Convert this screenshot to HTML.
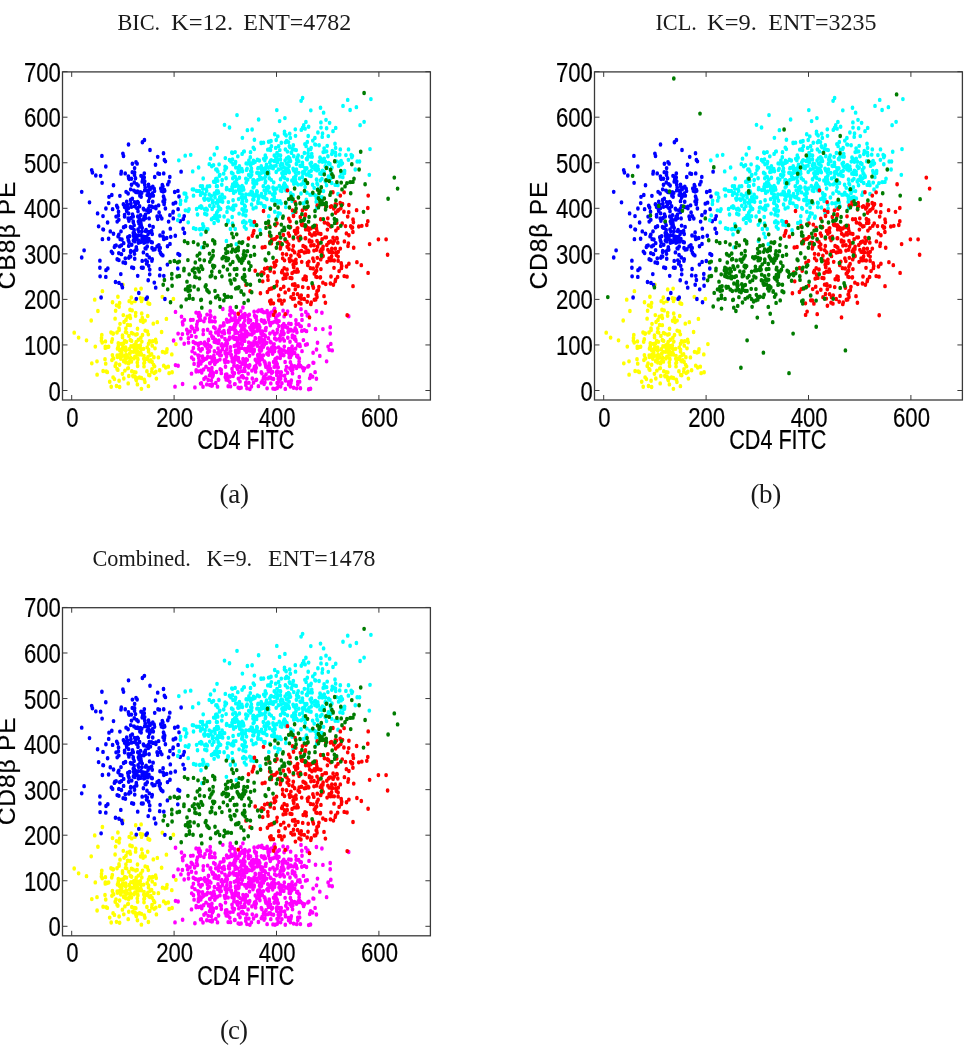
<!DOCTYPE html>
<html><head><meta charset="utf-8"><title>Figure</title>
<style>
html,body{margin:0;padding:0;background:#fff}
svg{display:block}
.tk text{font-family:"Liberation Sans",sans-serif;font-size:28px;fill:#000;stroke:#000;stroke-width:0.2px}
.tt{font-family:"Liberation Serif",serif;font-size:22.3px;fill:#1a1a1a}
.cp{font-family:"Liberation Serif",serif;font-size:27px;fill:#1a1a1a}
</style></head><body>
<svg width="968" height="1050" viewBox="0 0 968 1050">
<rect width="968" height="1050" fill="#fff"/>
<g transform="translate(0,0)">
<path d="M153.9 308.0h0M131.3 303.3h0M111.9 310.4h0M140.6 276.5h0M144.0 315.9h0M148.5 303.1h0M134.8 302.7h0M152.2 298.0h0M155.0 300.3h0M117.5 300.6h0M155.6 292.8h0M136.3 327.9h0M125.0 306.5h0M128.8 324.1h0M162.5 303.3h0M148.8 323.3h0M106.2 320.2h0M134.9 307.5h0M131.5 286.9h0M131.0 298.5h0M125.8 302.4h0M111.3 286.8h0M146.9 320.0h0M128.0 312.6h0M124.4 310.5h0M122.5 289.2h0M145.1 276.4h0M139.5 325.4h0M123.3 271.6h0M119.1 284.5h0M126.4 294.7h0M148.5 301.4h0M135.6 272.3h0M137.2 305.5h0M128.6 313.3h0M129.7 304.6h0M137.0 326.0h0M105.3 299.9h0M158.4 308.1h0M121.6 301.9h0M124.9 301.5h0M154.2 321.6h0M137.1 288.0h0M134.3 320.9h0M124.7 294.0h0M109.7 329.1h0M136.5 301.3h0M152.0 318.2h0M119.8 306.0h0M154.6 315.8h0M122.4 322.3h0M141.4 305.6h0M133.7 297.8h0M144.3 327.3h0M117.8 318.9h0M105.0 309.6h0M115.2 315.5h0M117.1 318.0h0M111.7 294.6h0M138.4 292.9h0M123.5 296.1h0M103.1 319.8h0M171.8 305.5h0M120.8 309.3h0M114.4 326.8h0M152.7 294.1h0M151.6 305.3h0M116.0 313.4h0M111.0 286.5h0M118.3 295.8h0M151.0 294.5h0M128.9 289.6h0M121.2 296.4h0M133.2 324.5h0M152.1 312.1h0M112.3 292.4h0M127.8 317.5h0M112.4 306.1h0M167.0 301.0h0M161.6 286.2h0M148.3 288.2h0M131.6 293.9h0M143.8 309.2h0M101.4 293.7h0M137.9 299.1h0M113.1 308.9h0M113.3 287.4h0M122.8 299.6h0M128.3 317.3h0M142.5 288.7h0M144.4 310.2h0M137.7 298.2h0M119.1 328.2h0M144.0 306.9h0M131.8 320.0h0M151.8 320.4h0M119.6 333.6h0M91.2 276.3h0M126.3 308.8h0M166.7 303.3h0M140.9 291.0h0M130.7 308.4h0M147.2 299.4h0M141.4 325.9h0M140.7 303.9h0M125.8 312.5h0M134.8 299.6h0M136.7 304.1h0M123.8 326.3h0M116.5 332.8h0M135.8 321.0h0M148.5 296.3h0M143.6 300.7h0M141.2 301.0h0M141.4 335.2h0M137.6 315.5h0M149.7 311.4h0M163.7 315.2h0M134.5 301.7h0M137.7 309.1h0M149.7 323.5h0M159.6 319.2h0M138.5 304.7h0M139.2 305.7h0M135.0 307.8h0M115.1 274.7h0M150.8 310.5h0M129.8 305.0h0M107.3 320.8h0M131.4 311.8h0M107.1 299.3h0M118.2 298.7h0M134.0 309.0h0M119.6 301.2h0M150.2 306.0h0M111.2 333.4h0M142.3 274.1h0M156.2 295.0h0M147.9 307.6h0M137.4 331.4h0M135.0 324.8h0M132.9 287.6h0M123.7 311.4h0M141.8 294.5h0M134.1 299.8h0M149.1 310.9h0M127.4 308.0h0M105.3 298.8h0M97.1 323.0h0M137.3 312.5h0M165.7 316.8h0M129.2 301.0h0M156.4 326.4h0M117.5 307.8h0M101.5 291.4h0M165.0 303.9h0M169.1 321.7h0M168.3 316.1h0M119.8 302.1h0M102.2 295.3h0M101.8 288.7h0M125.1 307.2h0M144.9 329.3h0M143.1 277.6h0M95.3 298.8h0M135.4 296.8h0M131.0 298.7h0M132.8 324.0h0M130.0 310.5h0M125.6 299.6h0M145.2 285.0h0M133.7 303.3h0M113.6 309.0h0M140.3 297.8h0M127.6 280.1h0M78.6 291.0h0M142.5 257.5h0M124.1 277.6h0M153.3 279.0h0M126.6 286.7h0M128.2 330.5h0M135.8 288.5h0M130.3 293.1h0M119.6 314.4h0M86.5 293.4h0M175.9 296.6h0M91.8 313.2h0M122.2 306.8h0M146.6 309.4h0M139.9 300.1h0M144.5 312.4h0M149.5 294.2h0M137.9 309.8h0M105.7 313.5h0M136.2 294.7h0M121.7 304.0h0M117.2 306.5h0M137.6 303.1h0M166.4 274.9h0M113.1 325.3h0M113.1 287.7h0M148.4 332.9h0M143.9 313.2h0M155.8 320.5h0M136.2 300.6h0M122.5 290.7h0M135.9 326.9h0M126.3 305.9h0M97.0 311.5h0M126.3 308.0h0M124.9 319.5h0M120.0 279.2h0M172.1 320.9h0M147.7 272.4h0M153.6 314.5h0M115.6 267.9h0M105.4 294.3h0M123.6 295.9h0M148.1 261.4h0M149.6 262.0h0M157.3 277.7h0M162.3 255.9h0M130.4 274.2h0M116.5 263.2h0M94.7 258.3h0M129.8 272.2h0M147.4 285.7h0M141.5 259.6h0M137.5 283.4h0M130.3 280.3h0M125.9 283.2h0M131.3 256.5h0M141.7 270.3h0M108.6 298.9h0M146.9 257.9h0M126.0 275.9h0M130.0 267.0h0M119.6 261.1h0M117.9 255.8h0M132.1 267.6h0M119.0 283.1h0M173.4 257.7h0M129.2 259.6h0M125.5 286.3h0M127.2 273.1h0M119.1 264.4h0M97.9 268.1h0M131.7 260.9h0M140.4 257.1h0M112.5 260.6h0M135.7 269.7h0M117.0 286.6h0M135.0 259.6h0M141.1 248.8h0M74.2 286.8h0M102.4 251.0h0M122.9 245.5h0M135.7 249.5h0" stroke="#ffff00" stroke-width="3.75" stroke-linecap="round" fill="none" transform="scale(1,1.16)"/>
<path d="M257.6 283.7h0M230.3 265.3h0M230.0 282.6h0M289.7 304.0h0M250.8 298.3h0M206.0 316.2h0M303.4 293.2h0M277.2 334.5h0M302.0 302.7h0M264.1 331.0h0M279.0 327.9h0M276.3 292.7h0M249.1 288.3h0M191.5 322.1h0M215.1 282.9h0M226.8 293.8h0M235.1 273.0h0M244.9 270.7h0M283.8 279.3h0M253.0 304.7h0M274.3 270.0h0M234.9 273.8h0M188.4 291.5h0M222.3 286.4h0M234.3 298.3h0M226.6 275.6h0M229.0 276.8h0M296.2 284.4h0M235.7 303.6h0M207.7 303.8h0M258.5 312.5h0M199.1 269.8h0M240.5 296.1h0M200.2 271.6h0M255.6 320.4h0M281.2 320.9h0M194.8 285.4h0M245.0 284.8h0M296.8 307.2h0M194.6 286.0h0M290.6 272.3h0M292.4 289.2h0M223.5 298.1h0M291.9 316.4h0M242.4 324.0h0M269.6 270.7h0M243.7 278.7h0M284.0 287.5h0M281.3 323.8h0M290.8 284.9h0M186.8 284.3h0M191.3 281.7h0M285.3 335.3h0M248.8 316.9h0M244.2 290.2h0M192.8 283.1h0M223.2 280.7h0M239.6 334.6h0M280.6 288.8h0M187.7 287.6h0M263.6 288.5h0M251.4 333.2h0M256.2 317.0h0M193.4 299.9h0M259.5 301.7h0M285.9 303.2h0M254.6 316.1h0M236.4 307.9h0M245.0 301.6h0M238.3 291.8h0M277.1 286.7h0M200.8 313.5h0M296.7 334.8h0M217.5 333.3h0M253.2 282.9h0M264.5 297.0h0M267.1 334.8h0M278.2 326.7h0M266.3 269.2h0M253.2 285.0h0M330.8 296.5h0M222.8 266.4h0M228.9 292.5h0M191.4 282.0h0M276.6 321.2h0M234.6 331.2h0M262.0 306.7h0M242.9 265.1h0M218.0 300.3h0M299.3 309.0h0M255.3 310.1h0M261.3 320.8h0M239.3 274.7h0M274.7 277.3h0M288.4 304.1h0M268.2 273.3h0M299.3 315.7h0M304.5 317.5h0M265.0 312.5h0M233.2 290.3h0M263.4 326.1h0M301.2 281.4h0M237.5 315.7h0M222.5 300.9h0M302.4 316.9h0M254.1 302.6h0M237.0 317.0h0M245.4 315.6h0M267.9 270.1h0M221.3 321.7h0M237.5 295.7h0M265.7 284.7h0M275.8 273.9h0M241.0 292.6h0M253.6 302.7h0M208.5 293.3h0M223.7 278.6h0M259.9 314.2h0M182.4 288.0h0M226.7 297.9h0M283.1 267.8h0M244.0 291.7h0M193.3 294.8h0M269.9 287.5h0M233.1 324.1h0M280.4 305.6h0M249.9 335.4h0M268.1 326.2h0M229.8 329.3h0M269.5 301.7h0M276.7 313.3h0M213.1 323.7h0M214.7 273.8h0M196.7 282.1h0M200.9 319.7h0M226.3 311.8h0M190.7 275.9h0M241.9 273.3h0M294.7 290.2h0M225.0 292.2h0M208.2 327.6h0M237.5 293.5h0M241.0 285.1h0M242.8 292.9h0M209.5 302.6h0M230.1 324.6h0M256.9 279.2h0M252.3 326.3h0M225.9 310.9h0M207.0 271.2h0M201.7 321.1h0M219.0 285.9h0M291.0 279.3h0M203.9 277.0h0M279.0 276.8h0M313.1 312.7h0M236.1 303.5h0M224.9 311.9h0M303.1 317.4h0M198.4 313.0h0M229.7 271.3h0M252.0 288.4h0M268.1 318.7h0M238.4 308.6h0M202.6 308.2h0M246.5 301.5h0M245.4 312.0h0M249.5 306.7h0M274.8 269.3h0M267.1 268.0h0M237.6 318.1h0M290.0 294.6h0M292.1 298.6h0M244.9 319.8h0M210.6 320.4h0M230.5 302.5h0M257.9 307.1h0M283.0 292.1h0M238.9 303.3h0M255.2 291.3h0M234.6 282.0h0M274.7 291.8h0M281.7 302.8h0M205.9 309.3h0M290.8 284.2h0M254.6 272.1h0M252.3 301.9h0M268.1 272.3h0M260.2 285.3h0M276.2 312.1h0M173.6 293.5h0M196.2 320.3h0M280.2 308.7h0M256.0 327.6h0M175.5 314.7h0M271.3 269.4h0M207.4 296.6h0M230.4 299.3h0M312.6 324.7h0M226.9 301.0h0M332.2 302.1h0M240.0 328.8h0M246.7 289.9h0M313.7 312.8h0M249.2 301.7h0M226.8 322.7h0M329.2 301.6h0M293.6 334.3h0M300.1 281.1h0M210.2 271.7h0M301.0 266.5h0M268.8 270.5h0M259.2 308.6h0M213.4 290.8h0M244.0 288.5h0M296.2 279.3h0M275.0 309.8h0M201.0 319.5h0M272.1 300.6h0M289.2 308.0h0M254.1 294.4h0M225.5 316.2h0M299.1 311.6h0M256.2 295.6h0M190.0 285.7h0M233.8 291.5h0M252.9 296.4h0M260.3 307.1h0M229.6 290.9h0M240.4 280.7h0M277.1 330.2h0M244.4 317.7h0M264.9 329.6h0M283.4 288.3h0M281.9 301.9h0M214.4 302.7h0M210.2 287.1h0M252.5 286.7h0M219.2 283.9h0M210.4 322.5h0M218.7 285.3h0M264.3 311.6h0M257.0 285.1h0M244.4 284.1h0M210.2 268.2h0M245.1 285.2h0M184.4 275.7h0M213.0 321.5h0M242.7 289.6h0M280.3 324.7h0M265.9 316.3h0M219.8 306.2h0M287.5 321.4h0M254.2 280.6h0M258.4 332.9h0M274.1 296.6h0M228.6 284.9h0M263.7 269.2h0M210.8 299.0h0M259.8 310.7h0M242.9 319.9h0M249.9 282.4h0M246.6 286.0h0M265.3 277.9h0M263.2 295.2h0M254.1 286.2h0M196.1 269.5h0M244.7 293.9h0M234.9 281.7h0M238.5 299.4h0M307.9 316.1h0M274.4 287.8h0M255.7 315.5h0M235.1 310.1h0M215.1 277.2h0M207.3 300.3h0M262.2 309.4h0M270.3 280.4h0M198.0 306.3h0M212.0 311.4h0M212.6 291.3h0M278.9 281.2h0M237.4 302.1h0M214.2 294.7h0M262.8 293.3h0M225.3 325.1h0M205.3 297.9h0M302.0 275.8h0M266.9 316.0h0M238.9 302.4h0M274.5 302.8h0M330.2 282.1h0M284.3 298.8h0M201.3 330.4h0M292.3 290.8h0M181.5 273.0h0M285.3 281.7h0M239.3 296.2h0M234.4 321.7h0M256.6 276.1h0M269.2 325.4h0M232.3 308.8h0M217.6 304.5h0M266.0 326.4h0M184.2 296.3h0M244.7 314.0h0M207.6 307.8h0M281.4 286.0h0M250.9 296.1h0M264.0 324.9h0M235.4 309.8h0M279.3 270.9h0M273.6 312.0h0M219.9 310.0h0M225.7 322.9h0M272.6 305.0h0M274.2 316.3h0M215.8 330.2h0M258.2 305.7h0M200.6 330.7h0M217.4 311.1h0M262.1 328.6h0M233.9 315.2h0M274.6 266.0h0M259.2 293.7h0M292.5 301.3h0M286.9 270.3h0M254.1 317.5h0M256.0 317.5h0M287.7 282.7h0M209.6 323.6h0M261.1 287.7h0M307.2 296.8h0M240.4 316.4h0M291.7 305.8h0M266.1 282.6h0M241.7 288.1h0M235.7 276.7h0M213.9 306.5h0M194.1 313.7h0M299.5 314.5h0M197.4 283.8h0M246.2 309.6h0M220.2 318.3h0M175.0 333.3h0M246.5 303.4h0M225.1 303.4h0M243.6 279.4h0M279.5 291.9h0M282.4 288.3h0M272.4 304.4h0M178.1 315.3h0M241.1 334.2h0M248.6 275.6h0M198.3 297.5h0M328.1 298.8h0M275.2 300.0h0M234.1 292.1h0M315.1 320.8h0M267.4 316.3h0M221.2 318.9h0M309.7 326.0h0M277.4 284.1h0M194.9 304.6h0M273.7 297.9h0M232.6 275.7h0M278.2 316.7h0M227.3 296.1h0M198.5 271.2h0M242.3 313.6h0M268.6 275.6h0M273.0 286.0h0M261.5 301.6h0M268.5 320.0h0M256.5 327.3h0M248.1 322.1h0M180.9 291.9h0M297.8 329.2h0M268.4 305.9h0M202.5 307.3h0M232.2 268.2h0M258.8 267.7h0M244.5 273.6h0M209.6 297.9h0M216.0 295.1h0M263.8 294.3h0M254.0 286.8h0M274.9 288.2h0M249.7 314.8h0M255.3 273.3h0M221.8 290.2h0M247.3 310.2h0M248.7 315.4h0M234.8 279.5h0M272.6 320.7h0M218.6 303.7h0M269.4 278.1h0M262.0 276.8h0M210.6 308.0h0M212.1 277.0h0M316.4 326.5h0M276.6 314.7h0M216.4 320.7h0M305.8 269.0h0M285.4 280.9h0M212.2 332.4h0M241.6 299.9h0M296.9 286.5h0M278.3 329.6h0M313.1 304.1h0M236.1 297.8h0M237.1 315.7h0M232.0 311.5h0M261.3 329.8h0M290.9 330.0h0M287.8 291.2h0M263.7 325.3h0M209.7 277.1h0M239.6 275.4h0M308.8 315.4h0M247.3 287.5h0M276.9 320.1h0M208.6 318.7h0M253.7 297.3h0M235.1 287.2h0M182.8 279.7h0M231.3 274.6h0M278.6 299.5h0M200.3 272.5h0M244.6 319.8h0M204.6 295.2h0M282.4 283.3h0M266.0 322.7h0M248.9 330.0h0M246.7 300.9h0M230.5 333.1h0M290.4 333.2h0M291.3 328.0h0M196.8 279.7h0M259.5 305.4h0M221.8 296.7h0M291.4 319.1h0M175.5 268.9h0M297.7 306.7h0M246.8 326.4h0M243.0 281.9h0M202.2 300.9h0M218.5 288.6h0M188.5 295.4h0M286.5 316.3h0M240.9 319.9h0M279.1 303.2h0M265.3 314.1h0M229.2 286.1h0M239.9 273.4h0M235.6 285.1h0M230.0 291.5h0M209.9 331.9h0M269.4 315.3h0M246.6 315.2h0M211.7 332.5h0M295.9 276.1h0M307.3 272.0h0M203.0 333.4h0M285.1 312.1h0M261.3 302.2h0M285.5 328.1h0M200.6 275.8h0M259.8 282.1h0M209.7 313.0h0M236.3 297.5h0M308.0 271.3h0M228.1 311.9h0M198.5 320.1h0M206.7 309.0h0M228.8 286.7h0M221.3 297.8h0M284.6 323.9h0M295.6 292.7h0M284.0 302.3h0M300.1 298.4h0M297.8 297.7h0M244.8 276.1h0M203.3 284.7h0M215.4 292.8h0M243.3 312.6h0M218.9 293.5h0M235.0 331.1h0M208.6 318.1h0M255.4 291.8h0M228.2 333.0h0M250.2 302.4h0M198.6 272.5h0M271.8 299.5h0M205.0 274.5h0M273.8 267.7h0M280.6 324.1h0M238.0 309.8h0M261.7 268.4h0M294.6 292.2h0M254.1 268.7h0M244.4 290.9h0M248.7 298.8h0M238.2 297.9h0M239.5 289.5h0M203.6 318.5h0M202.0 311.5h0M224.0 280.1h0M198.3 315.2h0M262.2 289.0h0M238.2 334.1h0M261.9 321.9h0M321.9 269.6h0M254.2 301.5h0M211.3 327.9h0M267.6 304.5h0M304.4 284.6h0M280.3 289.3h0M298.0 297.0h0M263.3 306.3h0M259.8 295.0h0M236.2 291.4h0M199.7 274.7h0M276.4 316.1h0M301.8 271.5h0M275.2 314.2h0M260.1 300.0h0M226.5 307.5h0M229.2 277.0h0M231.4 269.3h0M218.4 327.3h0M300.6 315.5h0M268.0 304.6h0M257.7 268.4h0M211.9 317.2h0M212.4 324.8h0M218.2 295.7h0M257.7 306.1h0M277.0 276.2h0M231.9 276.0h0M203.2 288.1h0M296.5 317.2h0M288.6 329.5h0M236.2 286.1h0M193.5 309.8h0M246.9 334.7h0M280.6 333.2h0M234.6 270.1h0M273.5 326.7h0M287.6 268.4h0M198.5 296.2h0M235.6 302.3h0M310.6 323.5h0M210.9 272.6h0M248.7 295.2h0M234.3 284.3h0M308.7 335.6h0M227.1 324.3h0M220.7 302.7h0M298.8 314.3h0M284.1 272.8h0M270.3 279.6h0M211.9 289.9h0M198.9 300.7h0M270.2 294.6h0M275.7 309.3h0M206.8 331.4h0M317.5 295.5h0M268.4 291.5h0M298.7 279.5h0M214.8 313.8h0M256.5 279.1h0M293.5 285.1h0M233.8 322.5h0M294.5 315.6h0M266.9 305.0h0M225.2 304.8h0M192.1 302.9h0M272.4 278.1h0M301.8 285.3h0M279.2 325.1h0M294.7 304.3h0M243.1 280.0h0M289.4 306.7h0M235.3 273.8h0M215.8 286.6h0M267.8 300.4h0M212.8 308.5h0M257.3 298.1h0M243.5 325.4h0M278.9 320.9h0M191.3 281.9h0M227.3 277.4h0M198.7 308.7h0M271.6 321.5h0M248.5 277.9h0M240.8 268.4h0M242.8 271.6h0M284.3 293.7h0M209.7 274.8h0M235.8 279.7h0M290.3 330.6h0M258.7 309.7h0M290.4 312.2h0M289.9 302.8h0M270.8 330.5h0M178.1 287.6h0M200.6 302.3h0M280.3 301.1h0M237.9 286.9h0M223.9 285.3h0M228.0 304.6h0M297.8 331.4h0M237.9 277.7h0M299.3 324.9h0M191.7 308.2h0M231.1 306.4h0M251.9 300.2h0M290.0 317.7h0M259.0 280.3h0M253.4 279.4h0M248.0 272.1h0M256.3 273.1h0M276.8 323.4h0M277.2 313.9h0M289.9 317.3h0M244.9 280.9h0M247.3 302.4h0M234.0 313.1h0M204.2 296.5h0M264.5 293.0h0M197.5 277.3h0M298.1 308.1h0M238.4 326.4h0M305.6 297.3h0M196.0 290.4h0M285.8 318.9h0M300.4 334.7h0M226.2 327.3h0M330.2 287.5h0M316.5 301.3h0M245.8 329.9h0M280.6 326.5h0M263.4 299.0h0M212.4 331.3h0M292.5 321.9h0M266.5 295.6h0M283.8 306.3h0M292.8 318.5h0M221.2 306.3h0M291.5 314.7h0M245.8 332.0h0M253.0 279.5h0M242.2 296.7h0M244.6 300.9h0M264.0 278.2h0M257.9 297.7h0M269.5 302.8h0M326.6 311.5h0M218.5 285.7h0M224.5 287.3h0M232.0 308.6h0M299.6 329.0h0M237.9 276.7h0M264.9 289.2h0M232.0 283.2h0M322.9 283.7h0M277.2 308.4h0M261.3 292.3h0M288.7 300.9h0M280.0 293.5h0M271.8 326.4h0M225.0 312.3h0M285.4 327.1h0M295.9 293.8h0M218.6 327.4h0M319.8 306.8h0M205.8 325.3h0M241.5 293.3h0M196.2 319.1h0M200.8 295.7h0M218.1 285.7h0M213.7 282.0h0M224.4 310.4h0M299.7 296.9h0M281.3 304.3h0M204.0 326.7h0M249.3 271.3h0M269.2 313.4h0M261.4 276.1h0M182.5 277.7h0M237.3 303.8h0M275.0 335.3h0M213.8 309.2h0M203.6 310.4h0M213.1 310.4h0M256.9 312.4h0M316.4 268.3h0M290.6 300.8h0M281.9 330.4h0M269.9 272.1h0M199.1 310.5h0M290.4 308.0h0M193.0 275.7h0M295.2 283.0h0M232.4 320.7h0M282.9 306.0h0M243.0 309.5h0M265.6 283.4h0M282.5 280.8h0M212.0 320.3h0M278.2 332.8h0M259.3 291.3h0M303.6 319.3h0M253.5 329.9h0M315.5 283.6h0M295.9 316.1h0M288.8 279.0h0M261.6 286.1h0M220.3 281.5h0M216.0 312.1h0M238.1 303.8h0M270.5 318.1h0M214.4 308.9h0M221.0 319.0h0M230.1 267.7h0M251.9 284.9h0M283.0 285.5h0M232.0 318.0h0M236.1 292.5h0M306.5 285.5h0M241.9 272.5h0M213.2 322.7h0M264.2 276.4h0M191.5 289.6h0M288.1 286.1h0M248.0 272.4h0M251.0 284.3h0M240.0 312.3h0M265.0 289.5h0M271.8 301.2h0M273.0 335.0h0M210.0 313.3h0M261.9 297.8h0M250.5 276.3h0M234.0 281.4h0M235.5 307.1h0M310.5 335.1h0M238.8 321.2h0M218.4 293.6h0M265.7 315.6h0M277.8 271.9h0M238.6 311.0h0M210.0 298.8h0M292.7 304.2h0M194.9 334.0h0M261.8 267.1h0M225.9 295.8h0M227.9 327.6h0M208.5 292.9h0M295.6 300.6h0M207.6 284.3h0M260.7 308.6h0M288.6 331.4h0M251.9 319.5h0M231.4 283.4h0M299.1 315.8h0M277.3 278.1h0M271.0 295.3h0M236.3 302.7h0M182.6 331.0h0M309.0 280.3h0M265.3 289.9h0M257.8 282.7h0M244.8 290.6h0M241.3 324.7h0M241.7 283.8h0M210.7 286.6h0M262.5 285.8h0M256.6 281.9h0M199.1 306.7h0M270.5 325.4h0M251.8 280.1h0M231.3 305.9h0M229.4 286.8h0M267.9 317.0h0M251.5 297.0h0M195.4 295.9h0M348.7 272.6h0" stroke="#ff00ff" stroke-width="3.75" stroke-linecap="round" fill="none" transform="scale(1,1.16)"/>
<path d="M126.7 173.9h0M142.0 152.0h0M129.2 154.3h0M148.4 182.9h0M137.7 179.4h0M173.0 183.2h0M163.1 165.1h0M130.9 175.4h0M150.8 162.1h0M134.0 204.9h0M134.6 148.6h0M123.4 176.1h0M130.7 163.2h0M127.8 176.7h0M144.0 180.7h0M152.4 166.8h0M152.8 160.9h0M149.4 177.8h0M158.6 177.0h0M150.2 163.2h0M143.7 188.8h0M138.7 199.4h0M147.2 168.0h0M169.9 185.5h0M143.4 206.1h0M139.1 187.9h0M126.8 182.2h0M134.1 194.1h0M151.6 199.1h0M152.7 173.9h0M113.5 159.7h0M131.5 178.3h0M116.1 186.7h0M111.8 168.1h0M154.1 162.6h0M136.8 179.4h0M135.8 165.5h0M134.3 157.3h0M134.6 177.9h0M139.5 187.9h0M139.9 168.7h0M163.9 170.4h0M144.7 156.3h0M153.1 195.6h0M140.5 185.4h0M149.1 188.3h0M133.5 203.1h0M130.6 172.4h0M137.9 165.8h0M137.8 186.6h0M141.0 151.6h0M148.8 160.9h0M144.7 164.1h0M149.5 167.8h0M136.8 158.7h0M142.2 196.4h0M134.0 164.3h0M161.4 164.5h0M129.6 203.6h0M153.3 168.7h0M152.9 178.6h0M145.2 161.6h0M150.4 181.7h0M138.2 174.8h0M150.6 168.8h0M157.7 188.9h0M154.5 164.6h0M123.5 176.2h0M141.7 166.3h0M159.1 183.1h0M142.2 156.6h0M164.7 164.5h0M116.7 177.4h0M164.2 164.0h0M135.5 153.7h0M134.6 144.9h0M163.1 200.4h0M138.1 159.9h0M128.1 166.8h0M135.7 176.0h0M138.6 191.1h0M128.7 153.7h0M140.0 195.3h0M137.5 165.1h0M144.2 153.0h0M133.3 200.8h0M155.9 179.5h0M131.0 196.1h0M149.6 170.4h0M158.0 149.5h0M137.1 141.1h0M118.1 203.8h0M128.6 183.9h0M149.7 162.9h0M132.3 148.4h0M148.9 167.5h0M144.1 186.8h0M141.1 169.6h0M175.6 174.7h0M139.6 177.8h0M157.1 186.6h0M152.4 168.1h0M163.5 169.4h0M164.1 176.0h0M155.9 178.1h0M130.5 195.7h0M118.5 182.5h0M142.7 154.6h0M126.7 177.6h0M146.1 198.2h0M169.8 152.5h0M140.2 165.7h0M136.0 139.7h0M148.5 173.4h0M138.0 182.1h0M134.1 198.3h0M154.7 152.6h0M163.5 132.1h0M145.5 188.0h0M145.4 185.1h0M147.4 164.6h0M128.2 188.2h0M117.6 178.9h0M148.3 180.2h0M132.3 171.3h0M132.3 196.3h0M149.0 200.0h0M149.6 194.5h0M112.6 218.2h0M141.9 199.6h0M124.6 178.4h0M134.1 198.5h0M149.3 222.0h0M152.2 201.7h0M138.4 190.9h0M136.2 205.7h0M130.6 221.1h0M160.4 186.3h0M149.7 232.4h0M141.8 203.5h0M114.9 212.0h0M177.8 231.5h0M133.3 191.7h0M148.9 206.0h0M133.5 231.0h0M148.1 201.8h0M134.5 218.9h0M115.5 243.1h0M134.7 223.1h0M133.4 207.4h0M134.4 201.3h0M152.2 209.0h0M131.7 211.0h0M143.6 204.0h0M153.2 215.2h0M140.9 192.4h0M143.9 209.3h0M128.3 206.9h0M141.0 202.8h0M148.7 229.2h0M117.2 223.5h0M124.6 186.6h0M120.2 206.2h0M130.7 216.4h0M142.0 206.1h0M147.0 219.7h0M144.7 207.2h0M125.3 222.7h0M138.5 207.2h0M163.8 237.8h0M140.9 189.8h0M162.8 220.2h0M137.7 237.8h0M159.4 215.5h0M160.4 217.9h0M138.4 209.3h0M141.5 230.7h0M166.7 205.2h0M128.4 152.0h0M106.0 232.9h0M163.8 206.2h0M111.4 216.9h0M151.2 208.6h0M148.2 241.6h0M143.1 230.8h0M163.2 204.2h0M119.7 212.4h0M132.5 184.8h0M152.2 223.4h0M144.7 208.9h0M164.4 163.7h0M145.8 224.4h0M125.4 226.7h0M167.5 212.3h0M147.2 212.5h0M138.0 197.8h0M123.7 209.6h0M118.9 224.2h0M147.6 208.3h0M152.1 168.3h0M133.2 190.8h0M146.1 257.7h0M145.2 214.1h0M123.2 226.2h0M113.5 201.5h0M136.1 214.6h0M143.4 179.9h0M131.2 196.4h0M170.3 197.1h0M140.6 208.7h0M157.1 212.4h0M102.4 206.2h0M128.9 190.4h0M138.1 203.0h0M143.4 217.6h0M180.2 190.7h0M129.0 208.6h0M114.4 213.0h0M151.9 224.8h0M129.5 221.1h0M128.8 222.3h0M164.9 257.8h0M125.5 195.0h0M118.8 202.4h0M136.7 215.3h0M141.3 194.5h0M127.8 204.5h0M164.8 205.6h0M138.8 252.6h0M123.6 215.6h0M160.0 203.0h0M124.6 185.2h0M146.9 181.4h0M173.3 188.3h0M142.0 230.9h0M155.7 248.0h0M135.2 202.4h0M158.9 211.3h0M123.6 195.9h0M152.0 213.8h0M134.7 208.1h0M149.7 236.5h0M145.4 204.4h0M121.4 219.1h0M136.9 206.0h0M146.6 204.2h0M160.2 213.7h0M121.9 206.5h0M128.7 212.0h0M145.5 199.2h0M126.6 177.3h0M179.6 219.8h0M161.4 219.3h0M136.3 213.0h0M163.1 173.7h0M173.3 175.6h0M170.0 210.3h0M162.9 160.8h0M144.7 159.3h0M165.4 179.7h0M134.5 150.8h0M98.6 195.1h0M143.9 189.2h0M109.0 169.7h0M133.2 186.6h0M167.8 159.0h0M146.6 227.3h0M164.4 137.9h0M121.4 211.5h0M168.6 191.0h0M107.8 231.4h0M126.1 165.4h0M121.0 149.7h0M102.1 157.6h0M159.7 237.4h0M116.1 211.6h0M184.5 200.9h0M134.1 216.7h0M181.1 148.0h0M128.5 179.3h0M184.2 186.3h0M130.6 217.2h0M84.1 215.8h0M154.9 214.9h0M119.9 168.8h0M137.6 174.1h0M148.3 166.2h0M125.2 149.5h0M99.9 230.8h0M170.7 204.2h0M126.4 180.5h0M131.8 230.5h0M175.3 203.2h0M100.6 151.6h0M92.4 148.7h0M163.7 149.5h0M97.6 184.0h0M138.9 192.5h0M144.3 149.4h0M103.4 197.9h0M134.7 174.2h0M132.4 141.2h0M103.0 197.7h0M108.6 205.8h0M118.4 185.8h0M174.7 165.5h0M179.0 169.4h0M112.6 180.3h0M123.5 134.5h0M122.4 247.8h0M167.4 228.1h0M117.2 191.0h0M169.0 156.6h0M107.6 191.8h0M160.8 162.4h0M131.5 159.3h0M131.0 187.9h0M95.8 151.3h0M121.7 245.6h0M99.9 224.7h0M118.8 218.2h0M162.3 159.5h0M146.0 214.2h0M160.1 231.9h0M105.8 238.7h0M177.9 164.6h0M136.3 257.6h0M161.8 188.4h0M157.7 135.2h0M147.5 207.1h0M120.8 236.3h0M118.8 189.5h0M155.5 142.0h0M173.2 182.4h0M164.4 174.3h0M105.9 179.7h0M119.0 243.9h0M159.4 149.9h0M103.0 186.3h0M151.5 177.9h0M142.2 224.9h0M89.5 174.4h0M100.1 238.2h0M121.3 148.0h0M178.0 218.9h0M183.1 197.2h0M131.4 154.1h0M110.3 199.5h0M178.1 180.3h0M108.7 175.1h0M147.2 256.5h0M164.7 172.3h0M154.3 243.6h0M105.8 143.5h0M148.5 159.2h0M183.3 188.8h0M147.3 225.7h0M121.0 199.4h0M81.7 165.4h0M81.7 222.0h0M101.9 134.4h0M91.7 146.6h0M144.4 120.7h0M128.5 124.6h0M150.0 129.3h0M165.4 139.1h0M101.1 256.5h0M142.4 122.6h0M122.9 132.4h0" stroke="#0000ff" stroke-width="3.75" stroke-linecap="round" fill="none" transform="scale(1,1.16)"/>
<path d="M277.4 139.8h0M287.4 154.8h0M232.5 137.5h0M255.0 139.6h0M273.7 143.5h0M287.5 164.0h0M283.4 148.5h0M233.7 166.3h0M253.5 155.0h0M265.8 166.7h0M281.9 149.2h0M271.2 144.4h0M322.2 118.0h0M269.3 153.7h0M280.0 173.5h0M249.8 190.5h0M327.1 144.3h0M277.2 139.8h0M271.2 138.0h0M262.1 154.0h0M284.4 160.0h0M273.3 162.8h0M311.2 147.2h0M257.9 155.0h0M265.3 146.4h0M264.9 153.1h0M285.4 122.7h0M287.1 148.0h0M302.4 140.2h0M288.5 135.4h0M289.7 136.5h0M283.6 159.8h0M310.0 167.9h0M286.2 145.2h0M235.2 152.6h0M265.7 149.8h0M257.9 145.2h0M226.4 144.6h0M316.5 154.7h0M305.1 110.9h0M295.3 111.5h0M290.5 138.8h0M318.4 146.0h0M234.7 157.3h0M318.4 163.1h0M226.7 162.1h0M286.9 161.4h0M282.6 152.3h0M293.8 153.1h0M286.6 121.5h0M301.3 159.0h0M259.5 151.4h0M263.3 160.5h0M250.3 135.6h0M277.5 137.2h0M277.0 173.2h0M242.3 172.8h0M302.4 143.0h0M252.3 165.7h0M264.2 148.5h0M259.3 154.6h0M264.5 169.6h0M295.2 152.5h0M258.8 149.2h0M242.1 160.2h0M261.1 153.4h0M250.5 152.3h0M239.7 161.4h0M296.2 129.4h0M314.2 161.9h0M239.4 153.2h0M321.5 150.1h0M324.2 136.7h0M239.2 148.1h0M286.7 141.2h0M268.5 144.4h0M296.7 137.4h0M200.5 160.4h0M295.9 151.3h0M265.9 144.1h0M286.6 136.5h0M297.6 135.8h0M216.5 160.5h0M276.2 148.3h0M298.0 159.1h0M309.0 148.3h0M293.8 134.7h0M253.5 140.3h0M296.4 146.1h0M264.3 170.3h0M296.4 141.4h0M269.8 139.9h0M270.7 142.8h0M285.4 160.1h0M242.6 174.1h0M274.6 165.1h0M252.9 172.0h0M298.2 133.9h0M310.2 141.0h0M231.8 131.5h0M213.5 142.3h0M280.4 137.4h0M267.1 163.7h0M251.8 148.2h0M335.7 133.8h0M274.4 172.2h0M258.0 173.7h0M275.0 162.8h0M280.5 134.0h0M321.2 148.6h0M293.0 168.1h0M246.2 157.4h0M263.4 146.7h0M331.7 157.8h0M225.3 136.3h0M281.0 161.8h0M304.4 131.9h0M282.7 141.6h0M276.7 162.5h0M256.6 158.1h0M283.0 150.8h0M294.0 153.8h0M281.3 141.0h0M305.1 145.8h0M292.1 173.3h0M311.9 143.9h0M264.2 164.1h0M276.0 142.8h0M268.8 161.8h0M323.5 164.7h0M259.3 138.4h0M241.8 145.6h0M335.6 127.5h0M302.9 149.7h0M269.6 165.9h0M271.2 155.0h0M253.0 157.6h0M285.8 178.6h0M235.8 177.0h0M312.8 121.2h0M242.7 191.6h0M277.8 174.7h0M243.2 161.6h0M284.5 115.2h0M215.3 156.9h0M288.5 147.6h0M331.8 132.8h0M246.0 192.0h0M348.4 137.8h0M219.7 169.9h0M340.0 152.2h0M317.0 146.9h0M286.8 145.7h0M231.1 179.9h0M339.6 139.8h0M316.4 171.1h0M196.7 164.6h0M233.0 141.6h0M217.0 127.6h0M286.1 116.8h0M281.8 164.7h0M281.1 145.4h0M252.8 168.4h0M307.2 137.4h0M301.0 166.8h0M235.2 140.9h0M193.6 163.4h0M232.0 161.2h0M256.8 164.8h0M302.3 152.6h0M254.1 160.7h0M302.7 148.5h0M274.7 115.7h0M305.0 145.0h0M357.2 139.2h0M238.6 171.6h0M235.6 139.6h0M321.9 154.2h0M344.6 147.4h0M277.0 131.9h0M248.9 138.3h0M211.8 143.3h0M306.9 166.2h0M283.8 144.3h0M233.7 180.3h0M247.7 154.9h0M299.6 153.8h0M257.4 137.7h0M278.2 133.6h0M320.0 135.8h0M319.9 149.7h0M336.5 139.2h0M257.2 168.3h0M289.9 126.9h0M351.8 135.6h0M316.6 179.6h0M265.0 177.7h0M270.1 122.0h0M360.1 107.9h0M251.4 145.3h0M256.0 178.8h0M307.9 135.2h0M250.0 140.6h0M208.7 172.5h0M202.4 160.4h0M265.3 133.9h0M239.4 143.3h0M332.3 130.1h0M245.8 154.0h0M245.4 170.6h0M215.8 154.3h0M308.6 109.3h0M240.8 161.5h0M328.3 117.3h0M298.8 149.0h0M369.3 150.7h0M267.0 148.6h0M306.5 137.0h0M195.9 197.4h0M243.7 163.5h0M328.4 152.1h0M265.4 147.5h0M237.9 148.3h0M227.0 182.7h0M268.7 149.8h0M264.8 138.2h0M339.7 133.3h0M242.4 118.8h0M258.2 144.8h0M238.5 146.5h0M236.7 154.9h0M223.7 149.7h0M326.6 110.6h0M311.2 142.8h0M190.7 133.5h0M296.5 140.8h0M238.3 144.5h0M359.5 139.2h0M204.7 180.4h0M291.9 155.6h0M335.2 159.4h0M255.9 167.4h0M307.3 122.4h0M239.5 165.1h0M325.3 156.5h0M302.5 110.3h0M269.7 128.6h0M351.2 133.5h0M278.6 126.0h0M355.3 146.1h0M237.8 134.8h0M252.0 167.9h0M280.4 164.2h0M201.4 179.2h0M250.5 131.2h0M255.0 168.9h0M193.5 168.7h0M305.2 146.3h0M288.4 146.6h0M246.3 181.7h0M189.0 180.4h0M287.2 122.0h0M247.1 145.4h0M316.8 169.6h0M269.7 179.2h0M271.8 172.4h0M312.6 159.3h0M274.8 182.5h0M186.7 170.2h0M291.2 131.3h0M285.6 149.4h0M253.7 172.0h0M293.8 146.9h0M246.2 140.9h0M284.9 101.8h0M200.6 168.0h0M265.3 157.3h0M214.7 168.2h0M311.0 151.7h0M199.6 178.5h0M258.6 169.1h0M179.2 185.7h0M329.9 141.4h0M275.1 166.6h0M279.6 104.4h0M305.1 174.6h0M283.8 161.8h0M306.4 150.5h0M243.7 130.7h0M240.0 166.5h0M193.6 196.7h0M338.0 167.2h0M256.9 149.0h0M261.0 175.3h0M185.7 167.0h0M317.6 159.1h0M314.9 146.0h0M225.1 143.6h0M306.3 172.1h0M204.4 172.3h0M202.4 166.3h0M247.4 112.2h0M298.8 138.9h0M311.1 127.5h0M272.6 167.6h0M268.2 160.9h0M280.5 154.5h0M253.4 138.6h0M289.1 143.1h0M224.5 107.6h0M285.9 164.2h0M251.2 165.3h0M285.9 116.5h0M261.4 149.0h0M289.8 126.7h0M242.1 180.4h0M239.7 166.4h0M209.2 167.7h0M326.5 159.7h0M327.9 134.7h0M324.1 148.1h0M284.4 148.0h0M262.8 169.9h0M306.8 145.0h0M280.1 174.2h0M295.1 156.8h0M287.6 164.1h0M284.7 153.5h0M221.8 159.3h0M268.5 148.1h0M225.0 146.4h0M335.4 131.6h0M257.9 175.0h0M288.9 139.2h0M325.3 143.3h0M254.7 157.9h0M265.7 151.8h0M325.8 143.4h0M303.4 156.4h0M251.7 191.3h0M245.9 167.7h0M322.4 139.5h0M322.5 147.1h0M317.8 143.5h0M320.3 155.5h0M222.1 167.8h0M226.1 153.7h0M251.6 150.7h0M258.6 171.2h0M278.3 183.8h0M323.5 137.3h0M285.4 128.8h0M217.7 155.9h0M246.5 146.5h0M309.2 151.3h0M251.6 176.3h0M241.8 175.0h0M283.0 151.3h0M235.1 131.1h0M316.8 178.2h0M287.4 130.7h0M322.0 169.9h0M304.7 155.6h0M216.9 166.1h0M254.8 156.2h0M324.1 127.9h0M252.3 140.6h0M319.1 125.2h0M219.1 178.9h0M270.5 129.4h0M305.1 161.2h0M288.5 122.5h0M300.4 143.2h0M296.6 157.9h0M245.2 177.9h0M232.2 187.1h0M289.3 148.5h0M327.2 125.7h0M251.2 147.3h0M202.8 162.8h0M217.8 172.8h0M255.9 167.5h0M215.0 170.2h0M243.7 170.2h0M325.3 130.6h0M222.0 171.5h0M215.9 146.1h0M216.9 146.1h0M274.2 138.8h0M270.7 138.5h0M304.9 124.2h0M273.7 157.2h0M267.8 129.0h0M284.6 153.3h0M204.8 184.3h0M341.1 141.9h0M266.1 135.9h0M238.5 148.2h0M293.8 158.5h0M280.4 142.4h0M216.6 164.8h0M271.4 126.1h0M228.3 190.2h0M267.2 162.4h0M222.6 174.0h0M281.1 175.3h0M292.4 128.3h0M216.9 166.7h0M316.2 143.3h0M261.1 122.9h0M310.6 128.6h0M250.7 142.5h0M337.9 159.6h0M242.1 132.7h0M216.8 183.3h0M261.5 146.0h0M263.7 136.9h0M235.5 165.0h0M317.0 158.1h0M328.1 154.0h0M320.6 170.1h0M285.1 138.4h0M314.7 142.6h0M229.5 137.9h0M323.2 131.1h0M263.5 123.0h0M281.3 123.1h0M212.5 174.5h0M330.8 153.6h0M263.6 177.6h0M266.8 171.7h0M214.4 166.7h0M315.0 168.3h0M251.0 193.7h0M308.6 150.2h0M302.5 142.1h0M219.1 141.7h0M235.8 144.5h0M219.9 150.7h0M265.6 156.2h0M290.7 166.6h0M268.6 122.2h0M274.2 169.9h0M276.2 120.7h0M257.2 165.4h0M279.8 129.4h0M244.5 177.0h0M293.3 125.2h0M213.2 187.9h0M264.8 178.6h0M263.0 145.4h0M261.2 123.4h0M254.3 128.5h0M311.4 140.2h0M214.9 186.0h0M239.1 184.1h0M294.3 156.8h0M302.1 135.2h0M230.9 139.3h0M219.0 180.3h0M240.5 163.7h0M207.4 160.8h0M241.4 169.9h0M286.1 174.9h0M326.6 130.5h0M238.6 163.3h0M310.4 135.0h0M315.5 124.7h0M219.5 151.5h0M278.4 146.1h0M273.2 145.1h0M206.6 164.5h0M285.4 159.7h0M253.2 161.7h0M266.5 141.9h0M220.6 180.2h0M242.4 147.6h0M279.3 160.2h0M331.1 149.1h0M325.4 139.4h0M320.5 136.8h0M268.8 186.4h0M330.4 146.8h0M261.2 143.3h0M266.7 161.8h0M315.5 142.4h0M273.0 161.6h0M224.6 170.1h0M338.6 143.0h0M295.5 155.0h0M306.1 126.0h0M275.7 127.5h0M294.4 129.0h0M293.1 184.1h0M218.2 177.8h0M238.0 160.3h0M342.4 140.8h0M289.4 126.1h0M274.3 134.0h0M243.9 190.6h0M217.8 147.8h0M277.8 117.5h0M232.9 149.7h0M192.4 163.2h0M237.0 99.2h0M217.8 182.0h0M235.0 160.5h0M206.1 163.2h0M206.7 184.9h0M252.1 111.6h0M261.5 167.1h0M254.4 120.5h0M342.8 152.7h0M203.2 153.9h0M300.1 142.8h0M239.0 161.3h0M227.9 190.0h0M214.3 133.2h0M232.7 158.9h0M204.6 170.9h0M320.9 105.5h0M197.5 184.9h0M229.5 109.9h0M202.0 213.3h0M295.5 117.1h0M185.2 134.2h0M178.8 138.2h0M244.2 130.5h0M210.5 136.8h0M311.8 167.7h0M271.0 121.5h0M255.2 168.0h0M233.1 180.8h0M293.1 145.5h0M246.1 197.3h0M213.9 177.7h0M218.6 166.1h0M314.9 119.0h0M185.7 173.0h0M335.0 123.9h0M247.4 141.1h0M352.4 134.5h0M180.4 175.9h0M236.8 158.6h0M209.3 141.5h0M203.0 197.4h0M370.9 85.4h0M273.9 172.9h0M232.4 131.9h0M334.7 131.4h0M343.6 149.3h0M250.7 147.5h0M316.2 174.0h0M253.3 127.2h0M192.7 147.8h0M224.1 186.6h0M212.2 180.2h0M304.6 158.1h0M226.5 163.2h0M222.2 155.2h0M217.0 186.5h0M233.6 177.2h0M205.1 167.6h0M284.4 158.2h0M206.7 197.6h0M243.0 185.0h0M219.5 186.4h0M249.1 167.6h0M210.9 171.2h0M198.6 144.4h0M203.9 171.2h0M253.9 194.2h0M201.0 177.8h0M253.0 155.6h0M201.0 202.1h0M230.4 197.4h0M244.3 180.7h0M242.2 167.7h0M217.2 189.5h0M185.4 181.3h0M243.7 182.2h0M233.0 178.5h0M234.9 160.1h0M218.8 186.7h0M196.6 180.2h0M212.9 173.4h0M235.8 177.0h0M236.3 210.5h0M232.5 192.6h0M217.5 175.1h0M211.5 189.0h0M213.1 174.2h0M213.0 188.0h0M277.6 186.7h0M261.5 168.7h0M188.2 191.7h0M245.7 185.8h0M218.3 190.4h0M177.8 189.8h0M231.6 148.9h0M233.1 172.6h0M207.2 180.9h0M228.4 178.9h0M203.6 195.1h0M180.6 173.1h0M284.8 160.3h0M226.4 207.8h0M232.4 163.8h0M248.7 150.9h0M188.2 182.0h0M184.2 166.8h0M216.9 154.0h0M280.1 184.1h0M242.6 163.6h0M214.1 192.2h0M220.5 173.4h0M207.8 197.6h0M253.2 179.7h0M218.0 164.7h0M199.3 164.6h0M209.6 160.5h0M215.7 188.1h0M227.5 179.0h0M201.7 178.4h0M209.8 177.4h0M216.5 174.7h0M260.1 198.5h0M211.3 168.9h0M232.8 153.7h0M206.1 179.8h0M207.9 171.7h0M246.5 173.1h0M213.7 156.7h0M229.8 163.9h0M244.4 195.5h0M228.4 174.2h0M202.0 197.1h0M235.2 197.4h0M217.3 160.6h0M227.8 191.6h0M202.8 193.2h0M199.7 197.6h0M320.5 92.9h0M335.7 110.3h0M303.0 175.3h0M289.7 115.2h0M319.3 139.3h0M295.3 148.4h0M308.0 132.1h0M329.6 105.9h0M305.9 105.1h0M284.5 113.6h0M326.0 103.3h0M311.7 132.6h0M328.6 140.5h0M343.0 91.3h0M308.2 117.2h0M291.5 131.8h0M301.3 112.0h0M341.1 138.8h0M323.6 97.1h0M341.2 148.9h0M312.1 135.1h0M340.3 128.8h0M308.6 129.0h0M304.5 147.9h0M321.0 110.0h0M317.9 114.2h0M314.9 124.4h0M322.5 115.0h0M345.9 133.7h0M303.7 107.9h0M275.8 135.6h0M331.9 144.5h0M370.0 128.5h0M348.5 128.8h0M290.3 118.9h0M333.0 113.1h0M350.1 94.8h0M344.5 149.1h0M302.6 84.5h0M276.8 94.9h0M310.8 95.1h0M347.7 86.1h0M356.4 92.4h0M364.1 105.0h0M258.6 103.0h0M301.1 86.9h0" stroke="#00ffff" stroke-width="3.75" stroke-linecap="round" fill="none" transform="scale(1,1.16)"/>
<path d="M317.1 229.2h0M330.3 224.5h0M285.9 239.6h0M297.7 196.6h0M313.8 225.1h0M283.3 202.5h0M331.8 214.4h0M290.5 195.6h0M308.3 196.6h0M324.0 255.3h0M305.6 205.4h0M284.1 259.1h0M273.6 271.5h0M314.3 235.9h0M314.0 211.4h0M327.9 215.4h0M310.9 211.7h0M302.0 192.5h0M250.1 251.1h0M276.5 224.9h0M286.5 219.3h0M284.5 236.6h0M316.5 215.4h0M338.2 217.1h0M293.4 205.7h0M317.3 222.3h0M344.1 165.8h0M334.0 230.9h0M299.2 217.0h0M302.4 181.3h0M340.8 179.5h0M274.2 234.8h0M292.6 245.4h0M327.8 188.2h0M335.9 198.8h0M295.9 223.8h0M309.7 201.5h0M271.7 248.8h0M255.2 233.4h0M317.3 177.0h0M276.6 246.2h0M316.9 230.0h0M263.5 181.9h0M338.1 224.8h0M295.3 249.4h0M306.1 238.7h0M297.1 198.4h0M293.2 228.2h0M325.8 178.1h0M337.6 238.7h0M348.7 183.0h0M287.2 212.7h0M338.0 196.6h0M338.1 221.2h0M304.3 217.7h0M294.3 257.4h0M317.0 207.6h0M301.5 216.3h0M331.6 221.0h0M298.1 234.1h0M264.7 231.7h0M294.6 245.8h0M308.8 225.5h0M333.1 204.9h0M294.1 226.5h0M277.1 242.9h0M308.2 248.2h0M283.7 247.2h0M246.0 245.6h0M330.4 244.4h0M275.6 228.7h0M282.7 222.7h0M367.8 190.7h0M353.7 213.6h0M342.2 192.7h0M280.5 209.4h0M323.1 220.7h0M291.8 239.9h0M273.4 261.5h0M280.4 259.0h0M262.3 213.4h0M309.4 208.2h0M367.8 179.3h0M299.5 220.8h0M267.4 251.7h0M320.2 239.3h0M311.8 208.2h0M297.6 253.6h0M322.9 243.7h0M332.6 217.5h0M293.3 212.0h0M317.5 212.7h0M339.1 233.7h0M292.7 215.6h0M336.7 192.0h0M332.1 224.3h0M361.3 228.6h0M318.1 227.5h0M253.9 199.0h0M275.6 194.2h0M305.8 213.6h0M368.2 168.6h0M334.2 224.6h0M329.1 217.0h0M340.3 168.6h0M267.5 231.0h0M308.7 217.0h0M306.0 180.1h0M314.0 216.0h0M347.0 238.5h0M287.2 236.4h0M288.7 210.7h0M284.2 231.2h0M305.0 186.1h0M335.3 214.4h0M307.8 228.6h0M327.4 192.6h0M283.2 240.2h0M281.7 234.7h0M301.9 194.0h0M320.3 216.6h0M308.0 255.1h0M303.2 240.7h0M307.4 226.7h0M305.0 238.3h0M329.1 222.7h0M289.0 214.8h0M297.6 200.2h0M287.6 212.9h0M298.9 204.9h0M289.8 225.2h0M322.9 214.6h0M321.3 215.1h0M314.3 201.1h0M348.9 227.4h0M296.1 226.7h0M344.2 238.0h0M295.1 174.2h0M290.9 220.5h0M320.7 223.6h0M335.6 183.4h0M328.5 209.3h0M290.0 190.8h0M270.9 230.7h0M290.1 239.6h0M321.9 217.5h0M332.9 165.7h0M271.0 258.9h0M278.8 258.9h0M326.8 211.2h0M341.2 226.9h0M316.2 253.9h0M336.8 205.2h0M341.7 229.3h0M316.9 238.9h0M271.7 206.8h0M297.2 232.2h0M299.1 207.1h0M306.2 241.2h0M261.9 234.8h0M292.1 235.5h0M298.0 204.9h0M305.4 184.9h0M331.0 238.4h0M333.4 245.5h0M316.0 238.5h0M289.3 223.3h0M262.7 242.5h0M281.9 261.8h0M282.4 233.4h0M348.4 209.8h0M311.9 203.0h0M306.1 179.9h0M333.1 209.6h0M326.3 204.6h0M335.4 176.1h0M298.2 219.5h0M320.9 232.0h0M311.2 260.7h0M297.2 197.0h0M320.4 239.0h0M301.2 254.6h0M305.0 212.9h0M312.9 222.8h0M337.1 205.5h0M352.9 200.0h0M335.6 241.0h0M299.0 260.9h0M338.7 180.9h0M294.5 199.1h0M304.2 257.8h0M273.8 247.9h0M320.8 201.7h0M303.1 212.0h0M301.2 257.5h0M303.3 194.0h0M307.2 260.1h0M336.4 176.5h0M340.3 214.3h0M294.6 217.6h0M331.3 223.7h0M312.8 246.3h0M284.5 224.4h0M286.9 208.4h0M346.4 201.2h0M300.3 187.1h0M318.3 250.1h0M305.2 205.4h0M314.4 258.4h0M288.8 249.8h0M301.7 225.7h0M337.8 181.7h0M305.7 197.8h0M353.4 191.6h0M315.2 202.3h0M331.4 177.7h0M348.9 202.8h0M294.6 225.1h0M278.7 254.7h0M309.4 207.3h0M313.2 231.5h0M316.2 194.6h0M271.4 248.6h0M289.4 203.2h0M318.5 209.7h0M347.7 186.7h0M298.0 246.7h0M293.7 230.3h0M328.6 193.5h0M350.7 195.0h0M293.5 253.4h0M330.5 178.3h0M275.2 205.9h0M325.7 244.9h0M322.5 220.0h0M331.0 217.2h0M325.0 204.6h0M288.4 201.3h0M329.3 208.6h0M287.0 232.3h0M285.2 252.1h0M320.7 189.0h0M280.7 249.2h0M292.6 257.5h0M316.6 254.0h0M294.3 234.1h0M301.5 193.4h0M330.7 208.2h0M293.5 186.2h0M343.9 182.5h0M282.6 218.9h0M346.5 229.7h0M271.4 209.8h0M341.4 231.2h0M293.8 229.7h0M308.8 198.3h0M291.0 256.2h0M313.8 195.8h0M327.1 225.7h0M305.9 217.4h0M323.1 212.6h0M272.9 206.4h0M310.8 196.9h0M315.5 234.6h0M280.3 214.2h0M299.5 256.3h0M345.5 194.9h0M269.3 249.3h0M330.7 195.3h0M315.7 258.2h0M317.0 251.1h0M318.4 201.2h0M308.1 216.2h0M280.8 212.3h0M344.4 208.1h0M334.2 207.7h0M263.7 235.6h0M277.1 204.2h0M269.8 208.7h0M324.4 191.8h0M352.5 196.1h0M321.8 221.5h0M296.2 234.3h0M310.8 262.2h0M353.0 246.7h0M316.4 196.7h0M348.0 212.1h0M279.1 209.3h0M334.9 178.5h0M295.8 201.6h0M291.1 224.4h0M366.8 194.0h0M356.9 226.0h0M268.0 241.3h0M318.9 210.0h0M260.8 236.1h0M351.8 196.3h0M335.2 242.5h0M288.8 188.6h0M285.3 207.3h0M369.6 210.4h0M335.9 218.0h0M269.1 194.8h0M300.3 204.1h0M348.9 176.7h0M294.8 244.9h0M274.5 229.7h0M310.5 231.2h0M274.0 226.5h0M270.2 233.5h0M340.2 175.0h0M309.5 273.6h0M254.4 191.3h0M238.2 270.5h0M361.8 194.7h0M260.4 252.8h0M252.3 203.2h0M306.3 195.1h0M285.2 270.8h0M253.3 200.9h0M337.8 209.2h0M269.7 203.1h0M267.8 238.1h0M322.1 206.2h0M353.0 189.2h0M341.1 175.9h0M342.5 175.9h0M358.8 195.3h0M277.0 192.5h0M295.8 182.8h0M333.8 179.9h0M265.0 212.9h0M269.8 259.7h0M248.5 205.6h0M327.4 197.9h0M313.4 248.1h0M302.7 247.5h0M270.7 261.7h0M316.9 199.0h0M295.4 263.6h0M316.6 233.3h0M325.4 261.0h0M356.6 181.2h0M287.4 164.1h0M317.0 256.0h0M300.9 261.8h0M336.4 219.9h0M275.1 268.6h0M318.9 247.3h0M292.5 181.3h0M378.4 206.3h0M386.1 206.3h0M387.6 219.6h0M368.1 235.3h0M347.2 271.8h0" stroke="#ff0000" stroke-width="3.75" stroke-linecap="round" fill="none" transform="scale(1,1.16)"/>
<path d="M236.8 231.8h0M231.2 244.4h0M241.4 223.7h0M212.7 229.1h0M187.8 209.5h0M181.2 264.2h0M232.8 225.9h0M190.0 246.6h0M230.5 242.1h0M226.1 222.4h0M211.8 234.3h0M244.3 232.2h0M209.1 252.0h0M223.5 221.5h0M215.4 239.3h0M171.8 236.1h0M163.2 245.5h0M224.4 254.2h0M274.3 247.4h0M242.9 224.4h0M234.3 240.6h0M245.1 242.0h0M244.4 236.9h0M197.3 220.4h0M248.8 226.3h0M204.4 209.4h0M197.8 231.6h0M321.4 220.3h0M227.8 224.1h0M199.7 218.5h0M251.7 251.9h0M201.8 265.2h0M190.2 250.3h0M265.9 224.4h0M214.6 208.4h0M200.8 258.6h0M228.0 255.8h0M201.3 258.3h0M243.5 219.1h0M167.7 249.4h0M242.9 222.4h0M177.5 226.2h0M170.1 225.8h0M198.0 210.8h0M188.2 250.8h0M194.2 231.3h0M206.0 245.9h0M230.1 241.7h0M170.5 260.6h0M189.4 256.9h0M179.2 225.5h0M250.4 245.5h0M244.8 238.1h0M261.6 237.3h0M194.1 247.1h0M243.3 240.3h0M211.9 222.2h0M177.2 238.4h0M248.2 259.0h0M236.3 264.6h0M192.4 233.0h0M187.0 242.8h0M227.4 232.3h0M237.9 248.5h0M201.1 229.4h0M219.7 257.9h0M207.9 251.0h0M228.4 223.0h0M219.6 234.3h0M164.4 241.4h0M213.5 230.6h0M241.1 251.6h0M199.5 240.0h0M215.7 256.4h0M187.9 224.2h0M214.7 210.0h0M195.3 226.3h0M193.5 208.7h0M209.8 225.7h0M236.7 202.0h0M171.8 240.0h0M260.6 201.7h0M179.4 237.9h0M185.5 249.5h0M220.1 264.5h0M223.8 259.0h0M222.2 222.8h0M196.1 239.1h0M236.8 248.2h0M189.2 236.5h0M254.5 219.6h0M250.9 229.4h0M213.1 216.4h0M198.2 249.5h0M232.7 215.0h0M238.8 247.6h0M199.7 223.8h0M238.5 223.0h0M189.4 254.7h0M209.5 218.7h0M210.3 238.3h0M234.4 232.1h0M223.4 229.8h0M227.8 217.4h0M172.1 246.3h0M207.2 211.5h0M242.5 239.4h0M241.8 209.5h0M236.7 236.9h0M237.9 222.0h0M203.7 213.1h0M244.4 222.4h0M225.8 222.3h0M183.9 233.1h0M199.2 234.1h0M225.6 214.5h0M213.1 220.4h0M194.8 235.2h0M230.2 227.9h0M249.4 232.5h0M241.2 251.1h0M247.4 216.5h0M201.5 230.2h0M204.3 224.4h0M215.0 250.8h0M231.3 256.1h0M247.9 211.3h0M210.5 260.8h0M250.6 220.7h0M226.2 224.5h0M187.9 247.4h0M225.9 218.2h0M231.1 211.4h0M221.9 238.2h0M225.8 256.0h0M184.5 208.0h0M193.0 257.7h0M243.8 253.9h0M235.7 248.8h0M257.7 236.8h0M184.0 231.6h0M277.5 210.0h0M244.0 216.5h0M186.2 258.1h0M233.1 194.5h0M211.7 237.6h0M237.2 220.9h0M206.0 199.8h0M213.9 229.2h0M234.9 241.1h0M205.3 247.0h0M174.3 225.0h0M202.6 232.0h0M217.8 255.1h0M212.8 207.1h0M244.1 261.1h0M259.6 242.0h0M248.9 226.5h0M239.4 224.7h0M229.7 236.8h0M244.4 238.3h0M256.6 194.1h0M312.1 244.2h0M227.9 212.0h0M194.9 238.7h0M241.6 226.5h0M198.4 232.3h0M239.2 208.9h0M324.3 150.3h0M318.4 170.9h0M331.9 150.2h0M247.0 245.0h0M307.1 174.3h0M305.4 194.2h0M211.0 223.3h0M278.1 178.9h0M293.0 171.7h0M265.8 192.2h0M304.5 164.5h0M305.5 155.4h0M288.4 195.5h0M274.9 176.5h0M330.0 168.0h0M276.4 213.6h0M312.8 166.2h0M340.8 147.3h0M296.1 179.7h0M318.4 178.8h0M295.8 176.1h0M330.8 165.9h0M226.3 193.8h0M236.3 215.0h0M266.0 196.5h0M282.1 198.8h0M329.2 156.1h0M334.7 139.0h0M326.2 174.9h0M346.9 157.9h0M300.8 205.6h0M281.3 193.6h0M231.9 201.4h0M350.7 166.6h0M322.0 173.5h0M304.4 188.7h0M254.1 212.8h0M269.9 209.8h0M320.0 174.4h0M308.6 191.1h0M336.9 157.0h0M298.4 170.3h0M268.5 190.8h0M273.0 222.2h0M288.7 171.6h0M351.8 141.6h0M360.7 130.8h0M280.7 204.8h0M322.7 176.0h0M268.4 192.1h0M294.6 162.5h0M206.9 249.9h0M274.8 193.4h0M231.7 217.1h0M354.0 154.1h0M282.8 187.7h0M320.0 176.4h0M290.1 171.2h0M265.2 223.6h0M319.0 166.5h0M342.0 163.3h0M308.0 177.9h0M326.5 177.7h0M363.5 182.6h0M307.5 157.8h0M289.4 178.9h0M238.3 213.4h0M269.7 200.4h0M269.9 195.8h0M326.0 155.4h0M307.5 178.5h0M283.1 186.6h0M325.6 180.6h0M321.3 161.4h0M285.6 174.8h0M335.1 177.8h0M242.6 208.7h0M317.6 163.6h0M312.9 195.4h0M332.2 185.0h0M300.9 190.5h0M270.4 180.0h0M323.7 175.8h0M304.4 178.9h0M305.1 195.1h0M268.7 218.3h0M238.2 215.8h0M257.3 204.0h0M289.8 196.2h0M325.6 180.2h0M282.2 210.5h0M319.6 172.5h0M335.9 172.8h0M315.0 181.9h0M352.9 156.8h0M333.1 152.5h0M314.4 194.5h0M270.9 203.3h0M345.0 160.7h0M294.8 182.0h0M293.4 204.6h0M271.1 208.1h0M276.1 189.2h0M315.0 186.5h0M341.6 177.0h0M303.7 189.9h0M285.1 206.1h0M320.1 164.8h0M235.5 216.6h0M296.5 191.8h0M301.9 184.6h0M336.6 189.9h0M309.1 187.0h0M300.0 175.2h0M326.4 144.8h0M359.1 146.1h0M291.1 169.6h0M341.2 157.4h0M334.7 192.2h0M323.3 188.9h0M270.3 231.6h0M324.3 171.1h0M321.0 209.2h0M334.4 188.7h0M365.1 158.8h0M330.6 146.3h0M333.1 151.9h0M279.7 201.4h0M214.6 229.4h0M284.1 196.3h0M267.5 149.1h0M331.9 194.9h0M397.6 162.6h0M340.8 194.7h0M394.3 153.1h0M284.6 198.3h0M233.3 204.5h0M350.2 157.0h0M245.8 220.2h0M364.1 80.2h0M388.1 171.3h0" stroke="#007c00" stroke-width="3.75" stroke-linecap="round" fill="none" transform="scale(1,1.16)"/>
<rect x="62.5" y="71.9" width="367.9" height="328.1" fill="none" stroke="#3a3a3a" stroke-width="1.3"/>
<path d="M71.70 400.0v-5M71.70 71.9v5M174.10 400.0v-5M174.10 71.9v5M276.50 400.0v-5M276.50 71.9v5M378.90 400.0v-5M378.90 71.9v5M62.5 390.50h5M430.4 390.50h-5M62.5 344.95h5M430.4 344.95h-5M62.5 299.40h5M430.4 299.40h-5M62.5 253.85h5M430.4 253.85h-5M62.5 208.30h5M430.4 208.30h-5M62.5 162.75h5M430.4 162.75h-5M62.5 117.20h5M430.4 117.20h-5M62.5 71.65h5M430.4 71.65h-5" stroke="#3a3a3a" stroke-width="1" fill="none"/>
<g class="tk">
<text transform="translate(72.30,426.6) scale(0.79,1)" text-anchor="middle">0</text>
<text transform="translate(174.70,426.6) scale(0.79,1)" text-anchor="middle">200</text>
<text transform="translate(277.10,426.6) scale(0.79,1)" text-anchor="middle">400</text>
<text transform="translate(379.50,426.6) scale(0.79,1)" text-anchor="middle">600</text>
<text transform="translate(60.8,400.50) scale(0.79,1)" text-anchor="end">0</text>
<text transform="translate(60.8,354.95) scale(0.79,1)" text-anchor="end">100</text>
<text transform="translate(60.8,309.40) scale(0.79,1)" text-anchor="end">200</text>
<text transform="translate(60.8,263.85) scale(0.79,1)" text-anchor="end">300</text>
<text transform="translate(60.8,218.30) scale(0.79,1)" text-anchor="end">400</text>
<text transform="translate(60.8,172.75) scale(0.79,1)" text-anchor="end">500</text>
<text transform="translate(60.8,127.20) scale(0.79,1)" text-anchor="end">600</text>
<text transform="translate(60.8,81.65) scale(0.79,1)" text-anchor="end">700</text>
<text transform="translate(245.8,449.4) scale(0.772,1)" text-anchor="middle">CD4 FITC</text>
<text transform="translate(15.2,235.5) rotate(-90) scale(1.0,0.97)" style="font-size:24.6px" text-anchor="middle" textLength="108" lengthAdjust="spacing">CB8β PE</text>
</g>
<text class="tt" y="30.3"><tspan x="117.4" textLength="42.8" lengthAdjust="spacingAndGlyphs">BIC.</tspan> <tspan x="170.9" textLength="62.3" lengthAdjust="spacingAndGlyphs">K=12.</tspan> <tspan x="243.3" textLength="107.9" lengthAdjust="spacingAndGlyphs">ENT=4782</tspan></text>
<text class="cp" x="219.4" y="503.3" textLength="29.6" lengthAdjust="spacing">(a)</text>
</g>
<g transform="translate(532,0)">
<path d="M153.9 308.0h0M131.3 303.3h0M111.9 310.4h0M140.6 276.5h0M144.0 315.9h0M148.5 303.1h0M134.8 302.7h0M152.2 298.0h0M155.0 300.3h0M117.5 300.6h0M155.6 292.8h0M136.3 327.9h0M125.0 306.5h0M128.8 324.1h0M162.5 303.3h0M148.8 323.3h0M106.2 320.2h0M134.9 307.5h0M131.5 286.9h0M131.0 298.5h0M125.8 302.4h0M111.3 286.8h0M146.9 320.0h0M128.0 312.6h0M124.4 310.5h0M122.5 289.2h0M145.1 276.4h0M139.5 325.4h0M123.3 271.6h0M119.1 284.5h0M126.4 294.7h0M148.5 301.4h0M135.6 272.3h0M137.2 305.5h0M128.6 313.3h0M129.7 304.6h0M137.0 326.0h0M105.3 299.9h0M158.4 308.1h0M121.6 301.9h0M124.9 301.5h0M154.2 321.6h0M137.1 288.0h0M134.3 320.9h0M124.7 294.0h0M109.7 329.1h0M136.5 301.3h0M152.0 318.2h0M119.8 306.0h0M154.6 315.8h0M122.4 322.3h0M141.4 305.6h0M133.7 297.8h0M144.3 327.3h0M117.8 318.9h0M105.0 309.6h0M115.2 315.5h0M117.1 318.0h0M111.7 294.6h0M138.4 292.9h0M123.5 296.1h0M103.1 319.8h0M171.8 305.5h0M120.8 309.3h0M114.4 326.8h0M152.7 294.1h0M151.6 305.3h0M116.0 313.4h0M111.0 286.5h0M118.3 295.8h0M151.0 294.5h0M128.9 289.6h0M121.2 296.4h0M133.2 324.5h0M152.1 312.1h0M112.3 292.4h0M127.8 317.5h0M112.4 306.1h0M167.0 301.0h0M161.6 286.2h0M148.3 288.2h0M131.6 293.9h0M143.8 309.2h0M101.4 293.7h0M137.9 299.1h0M113.1 308.9h0M113.3 287.4h0M122.8 299.6h0M128.3 317.3h0M142.5 288.7h0M144.4 310.2h0M137.7 298.2h0M119.1 328.2h0M144.0 306.9h0M131.8 320.0h0M151.8 320.4h0M119.6 333.6h0M91.2 276.3h0M126.3 308.8h0M166.7 303.3h0M140.9 291.0h0M130.7 308.4h0M147.2 299.4h0M141.4 325.9h0M140.7 303.9h0M125.8 312.5h0M134.8 299.6h0M136.7 304.1h0M123.8 326.3h0M116.5 332.8h0M135.8 321.0h0M148.5 296.3h0M143.6 300.7h0M141.2 301.0h0M141.4 335.2h0M137.6 315.5h0M149.7 311.4h0M163.7 315.2h0M134.5 301.7h0M137.7 309.1h0M149.7 323.5h0M159.6 319.2h0M138.5 304.7h0M139.2 305.7h0M135.0 307.8h0M115.1 274.7h0M150.8 310.5h0M129.8 305.0h0M107.3 320.8h0M131.4 311.8h0M107.1 299.3h0M118.2 298.7h0M134.0 309.0h0M119.6 301.2h0M150.2 306.0h0M111.2 333.4h0M142.3 274.1h0M156.2 295.0h0M147.9 307.6h0M137.4 331.4h0M135.0 324.8h0M132.9 287.6h0M123.7 311.4h0M141.8 294.5h0M134.1 299.8h0M149.1 310.9h0M127.4 308.0h0M105.3 298.8h0M97.1 323.0h0M137.3 312.5h0M165.7 316.8h0M129.2 301.0h0M156.4 326.4h0M117.5 307.8h0M101.5 291.4h0M165.0 303.9h0M169.1 321.7h0M168.3 316.1h0M119.8 302.1h0M102.2 295.3h0M101.8 288.7h0M125.1 307.2h0M144.9 329.3h0M143.1 277.6h0M95.3 298.8h0M135.4 296.8h0M131.0 298.7h0M132.8 324.0h0M130.0 310.5h0M125.6 299.6h0M145.2 285.0h0M133.7 303.3h0M113.6 309.0h0M140.3 297.8h0M127.6 280.1h0M78.6 291.0h0M142.5 257.5h0M124.1 277.6h0M153.3 279.0h0M126.6 286.7h0M128.2 330.5h0M135.8 288.5h0M130.3 293.1h0M119.6 314.4h0M86.5 293.4h0M175.9 296.6h0M91.8 313.2h0M122.2 306.8h0M146.6 309.4h0M139.9 300.1h0M144.5 312.4h0M149.5 294.2h0M137.9 309.8h0M105.7 313.5h0M136.2 294.7h0M121.7 304.0h0M117.2 306.5h0M137.6 303.1h0M166.4 274.9h0M113.1 325.3h0M113.1 287.7h0M148.4 332.9h0M143.9 313.2h0M155.8 320.5h0M136.2 300.6h0M122.5 290.7h0M135.9 326.9h0M126.3 305.9h0M97.0 311.5h0M126.3 308.0h0M124.9 319.5h0M120.0 279.2h0M172.1 320.9h0M147.7 272.4h0M153.6 314.5h0M115.6 267.9h0M105.4 294.3h0M123.6 295.9h0M148.1 261.4h0M149.6 262.0h0M157.3 277.7h0M162.3 255.9h0M130.4 274.2h0M116.5 263.2h0M94.7 258.3h0M129.8 272.2h0M147.4 285.7h0M141.5 259.6h0M137.5 283.4h0M130.3 280.3h0M125.9 283.2h0M131.3 256.5h0M141.7 270.3h0M108.6 298.9h0M146.9 257.9h0M126.0 275.9h0M130.0 267.0h0M119.6 261.1h0M117.9 255.8h0M132.1 267.6h0M119.0 283.1h0M173.4 257.7h0M129.2 259.6h0M125.5 286.3h0M127.2 273.1h0M119.1 264.4h0M97.9 268.1h0M131.7 260.9h0M140.4 257.1h0M112.5 260.6h0M135.7 269.7h0M117.0 286.6h0M135.0 259.6h0M141.1 248.8h0M74.2 286.8h0M102.4 251.0h0M122.9 245.5h0M135.7 249.5h0" stroke="#ffff00" stroke-width="3.75" stroke-linecap="round" fill="none" transform="scale(1,1.16)"/>
<path d="M126.7 173.9h0M142.0 152.0h0M129.2 154.3h0M148.4 182.9h0M137.7 179.4h0M173.0 183.2h0M163.1 165.1h0M130.9 175.4h0M150.8 162.1h0M134.0 204.9h0M134.6 148.6h0M123.4 176.1h0M130.7 163.2h0M127.8 176.7h0M144.0 180.7h0M152.4 166.8h0M152.8 160.9h0M149.4 177.8h0M158.6 177.0h0M150.2 163.2h0M143.7 188.8h0M138.7 199.4h0M147.2 168.0h0M169.9 185.5h0M143.4 206.1h0M139.1 187.9h0M126.8 182.2h0M134.1 194.1h0M151.6 199.1h0M152.7 173.9h0M113.5 159.7h0M131.5 178.3h0M116.1 186.7h0M111.8 168.1h0M154.1 162.6h0M136.8 179.4h0M135.8 165.5h0M134.3 157.3h0M134.6 177.9h0M139.5 187.9h0M139.9 168.7h0M163.9 170.4h0M144.7 156.3h0M153.1 195.6h0M140.5 185.4h0M149.1 188.3h0M133.5 203.1h0M130.6 172.4h0M137.9 165.8h0M137.8 186.6h0M141.0 151.6h0M148.8 160.9h0M144.7 164.1h0M149.5 167.8h0M136.8 158.7h0M142.2 196.4h0M134.0 164.3h0M161.4 164.5h0M129.6 203.6h0M153.3 168.7h0M152.9 178.6h0M145.2 161.6h0M138.2 174.8h0M150.6 168.8h0M157.7 188.9h0M154.5 164.6h0M123.5 176.2h0M141.7 166.3h0M159.1 183.1h0M142.2 156.6h0M164.7 164.5h0M116.7 177.4h0M164.2 164.0h0M135.5 153.7h0M134.6 144.9h0M163.1 200.4h0M138.1 159.9h0M128.1 166.8h0M135.7 176.0h0M138.6 191.1h0M128.7 153.7h0M140.0 195.3h0M144.2 153.0h0M133.3 200.8h0M155.9 179.5h0M131.0 196.1h0M149.6 170.4h0M158.0 149.5h0M137.1 141.1h0M118.1 203.8h0M128.6 183.9h0M149.7 162.9h0M132.3 148.4h0M148.9 167.5h0M144.1 186.8h0M141.1 169.6h0M175.6 174.7h0M139.6 177.8h0M157.1 186.6h0M152.4 168.1h0M163.5 169.4h0M164.1 176.0h0M155.9 178.1h0M130.5 195.7h0M118.5 182.5h0M142.7 154.6h0M146.1 198.2h0M169.8 152.5h0M140.2 165.7h0M136.0 139.7h0M148.5 173.4h0M138.0 182.1h0M134.1 198.3h0M154.7 152.6h0M163.5 132.1h0M145.5 188.0h0M145.4 185.1h0M147.4 164.6h0M128.2 188.2h0M117.6 178.9h0M148.3 180.2h0M132.3 171.3h0M132.3 196.3h0M149.0 200.0h0M149.6 194.5h0M112.6 218.2h0M141.9 199.6h0M124.6 178.4h0M134.1 198.5h0M149.3 222.0h0M152.2 201.7h0M138.4 190.9h0M136.2 205.7h0M130.6 221.1h0M160.4 186.3h0M149.7 232.4h0M141.8 203.5h0M114.9 212.0h0M177.8 231.5h0M133.3 191.7h0M148.9 206.0h0M133.5 231.0h0M148.1 201.8h0M134.5 218.9h0M115.5 243.1h0M134.7 223.1h0M133.4 207.4h0M134.4 201.3h0M152.2 209.0h0M131.7 211.0h0M143.6 204.0h0M153.2 215.2h0M140.9 192.4h0M143.9 209.3h0M128.3 206.9h0M141.0 202.8h0M148.7 229.2h0M117.2 223.5h0M124.6 186.6h0M120.2 206.2h0M130.7 216.4h0M142.0 206.1h0M147.0 219.7h0M144.7 207.2h0M125.3 222.7h0M138.5 207.2h0M163.8 237.8h0M140.9 189.8h0M162.8 220.2h0M137.7 237.8h0M159.4 215.5h0M160.4 217.9h0M138.4 209.3h0M141.5 230.7h0M166.7 205.2h0M128.4 152.0h0M106.0 232.9h0M163.8 206.2h0M111.4 216.9h0M151.2 208.6h0M148.2 241.6h0M143.1 230.8h0M163.2 204.2h0M119.7 212.4h0M132.5 184.8h0M152.2 223.4h0M144.7 208.9h0M164.4 163.7h0M145.8 224.4h0M125.4 226.7h0M167.5 212.3h0M147.2 212.5h0M138.0 197.8h0M123.7 209.6h0M118.9 224.2h0M147.6 208.3h0M152.1 168.3h0M146.1 257.7h0M145.2 214.1h0M123.2 226.2h0M113.5 201.5h0M136.1 214.6h0M143.4 179.9h0M131.2 196.4h0M170.3 197.1h0M140.6 208.7h0M157.1 212.4h0M102.4 206.2h0M128.9 190.4h0M138.1 203.0h0M143.4 217.6h0M180.2 190.7h0M129.0 208.6h0M114.4 213.0h0M151.9 224.8h0M129.5 221.1h0M128.8 222.3h0M164.9 257.8h0M125.5 195.0h0M118.8 202.4h0M136.7 215.3h0M141.3 194.5h0M127.8 204.5h0M164.8 205.6h0M138.8 252.6h0M123.6 215.6h0M160.0 203.0h0M124.6 185.2h0M146.9 181.4h0M142.0 230.9h0M155.7 248.0h0M135.2 202.4h0M158.9 211.3h0M123.6 195.9h0M152.0 213.8h0M134.7 208.1h0M149.7 236.5h0M145.4 204.4h0M121.4 219.1h0M136.9 206.0h0M146.6 204.2h0M160.2 213.7h0M121.9 206.5h0M128.7 212.0h0M145.5 199.2h0M126.6 177.3h0M179.6 219.8h0M161.4 219.3h0M136.3 213.0h0M163.1 173.7h0M173.3 175.6h0M170.0 210.3h0M162.9 160.8h0M144.7 159.3h0M165.4 179.7h0M134.5 150.8h0M98.6 195.1h0M143.9 189.2h0M109.0 169.7h0M133.2 186.6h0M167.8 159.0h0M146.6 227.3h0M164.4 137.9h0M121.4 211.5h0M168.6 191.0h0M107.8 231.4h0M126.1 165.4h0M121.0 149.7h0M102.1 157.6h0M159.7 237.4h0M116.1 211.6h0M184.5 200.9h0M134.1 216.7h0M181.1 148.0h0M128.5 179.3h0M184.2 186.3h0M130.6 217.2h0M84.1 215.8h0M154.9 214.9h0M119.9 168.8h0M137.6 174.1h0M148.3 166.2h0M125.2 149.5h0M99.9 230.8h0M170.7 204.2h0M126.4 180.5h0M131.8 230.5h0M175.3 203.2h0M92.4 148.7h0M163.7 149.5h0M97.6 184.0h0M138.9 192.5h0M144.3 149.4h0M103.4 197.9h0M134.7 174.2h0M132.4 141.2h0M103.0 197.7h0M108.6 205.8h0M174.7 165.5h0M179.0 169.4h0M112.6 180.3h0M123.5 134.5h0M167.4 228.1h0M117.2 191.0h0M169.0 156.6h0M107.6 191.8h0M160.8 162.4h0M131.5 159.3h0M131.0 187.9h0M95.8 151.3h0M121.7 245.6h0M99.9 224.7h0M118.8 218.2h0M162.3 159.5h0M146.0 214.2h0M160.1 231.9h0M105.8 238.7h0M177.9 164.6h0M136.3 257.6h0M161.8 188.4h0M157.7 135.2h0M147.5 207.1h0M120.8 236.3h0M118.8 189.5h0M155.5 142.0h0M173.2 182.4h0M164.4 174.3h0M105.9 179.7h0M119.0 243.9h0M159.4 149.9h0M103.0 186.3h0M142.2 224.9h0M89.5 174.4h0M100.1 238.2h0M121.3 148.0h0M178.0 218.9h0M183.1 197.2h0M131.4 154.1h0M110.3 199.5h0M178.1 180.3h0M108.7 175.1h0M147.2 256.5h0M164.7 172.3h0M154.3 243.6h0M105.8 143.5h0M148.5 159.2h0M183.3 188.8h0M147.3 225.7h0M121.0 199.4h0M81.7 165.4h0M81.7 222.0h0M101.9 134.4h0M91.7 146.6h0M144.4 120.7h0M128.5 124.6h0M150.0 129.3h0M165.4 139.1h0M101.1 256.5h0M142.4 122.6h0M122.9 132.4h0M171.8 236.1h0M163.2 245.5h0M167.7 249.4h0M170.1 225.8h0M170.5 260.6h0M164.4 241.4h0M171.8 240.0h0M172.1 246.3h0M174.3 225.0h0" stroke="#0000ff" stroke-width="3.75" stroke-linecap="round" fill="none" transform="scale(1,1.16)"/>
<path d="M277.4 139.8h0M287.4 154.8h0M232.5 137.5h0M255.0 139.6h0M273.7 143.5h0M287.5 164.0h0M283.4 148.5h0M233.7 166.3h0M253.5 155.0h0M265.8 166.7h0M281.9 149.2h0M271.2 144.4h0M322.2 118.0h0M269.3 153.7h0M249.8 190.5h0M327.1 144.3h0M277.2 139.8h0M271.2 138.0h0M262.1 154.0h0M284.4 160.0h0M273.3 162.8h0M311.2 147.2h0M257.9 155.0h0M265.3 146.4h0M264.9 153.1h0M285.4 122.7h0M287.1 148.0h0M302.4 140.2h0M288.5 135.4h0M289.7 136.5h0M283.6 159.8h0M310.0 167.9h0M286.2 145.2h0M235.2 152.6h0M257.9 145.2h0M226.4 144.6h0M316.5 154.7h0M305.1 110.9h0M295.3 111.5h0M290.5 138.8h0M318.4 146.0h0M234.7 157.3h0M226.7 162.1h0M286.9 161.4h0M282.6 152.3h0M293.8 153.1h0M286.6 121.5h0M301.3 159.0h0M259.5 151.4h0M263.3 160.5h0M250.3 135.6h0M277.5 137.2h0M277.0 173.2h0M242.3 172.8h0M302.4 143.0h0M252.3 165.7h0M264.2 148.5h0M259.3 154.6h0M264.5 169.6h0M295.2 152.5h0M258.8 149.2h0M242.1 160.2h0M261.1 153.4h0M250.5 152.3h0M239.7 161.4h0M296.2 129.4h0M314.2 161.9h0M239.4 153.2h0M321.5 150.1h0M324.2 136.7h0M239.2 148.1h0M286.7 141.2h0M296.7 137.4h0M200.5 160.4h0M295.9 151.3h0M265.9 144.1h0M286.6 136.5h0M297.6 135.8h0M216.5 160.5h0M276.2 148.3h0M298.0 159.1h0M309.0 148.3h0M293.8 134.7h0M253.5 140.3h0M296.4 146.1h0M264.3 170.3h0M296.4 141.4h0M269.8 139.9h0M270.7 142.8h0M285.4 160.1h0M242.6 174.1h0M274.6 165.1h0M252.9 172.0h0M298.2 133.9h0M310.2 141.0h0M231.8 131.5h0M213.5 142.3h0M280.4 137.4h0M267.1 163.7h0M251.8 148.2h0M335.7 133.8h0M274.4 172.2h0M258.0 173.7h0M275.0 162.8h0M280.5 134.0h0M321.2 148.6h0M293.0 168.1h0M246.2 157.4h0M263.4 146.7h0M331.7 157.8h0M225.3 136.3h0M281.0 161.8h0M304.4 131.9h0M282.7 141.6h0M276.7 162.5h0M256.6 158.1h0M283.0 150.8h0M294.0 153.8h0M281.3 141.0h0M305.1 145.8h0M292.1 173.3h0M311.9 143.9h0M264.2 164.1h0M276.0 142.8h0M268.8 161.8h0M323.5 164.7h0M259.3 138.4h0M241.8 145.6h0M335.6 127.5h0M302.9 149.7h0M269.6 165.9h0M271.2 155.0h0M253.0 157.6h0M285.8 178.6h0M235.8 177.0h0M312.8 121.2h0M242.7 191.6h0M277.8 174.7h0M243.2 161.6h0M284.5 115.2h0M215.3 156.9h0M288.5 147.6h0M331.8 132.8h0M246.0 192.0h0M348.4 137.8h0M219.7 169.9h0M317.0 146.9h0M286.8 145.7h0M231.1 179.9h0M339.6 139.8h0M316.4 171.1h0M196.7 164.6h0M233.0 141.6h0M217.0 127.6h0M286.1 116.8h0M281.8 164.7h0M281.1 145.4h0M252.8 168.4h0M307.2 137.4h0M301.0 166.8h0M235.2 140.9h0M193.6 163.4h0M232.0 161.2h0M256.8 164.8h0M302.3 152.6h0M254.1 160.7h0M302.7 148.5h0M274.7 115.7h0M305.0 145.0h0M357.2 139.2h0M238.6 171.6h0M235.6 139.6h0M321.9 154.2h0M344.6 147.4h0M277.0 131.9h0M248.9 138.3h0M211.8 143.3h0M306.9 166.2h0M283.8 144.3h0M233.7 180.3h0M247.7 154.9h0M299.6 153.8h0M257.4 137.7h0M278.2 133.6h0M320.0 135.8h0M319.9 149.7h0M257.2 168.3h0M289.9 126.9h0M351.8 135.6h0M316.6 179.6h0M265.0 177.7h0M270.1 122.0h0M360.1 107.9h0M251.4 145.3h0M256.0 178.8h0M307.9 135.2h0M250.0 140.6h0M208.7 172.5h0M202.4 160.4h0M265.3 133.9h0M239.4 143.3h0M332.3 130.1h0M245.8 154.0h0M245.4 170.6h0M215.8 154.3h0M308.6 109.3h0M240.8 161.5h0M328.3 117.3h0M298.8 149.0h0M369.3 150.7h0M267.0 148.6h0M306.5 137.0h0M195.9 197.4h0M243.7 163.5h0M328.4 152.1h0M265.4 147.5h0M237.9 148.3h0M227.0 182.7h0M268.7 149.8h0M264.8 138.2h0M339.7 133.3h0M242.4 118.8h0M258.2 144.8h0M238.5 146.5h0M236.7 154.9h0M223.7 149.7h0M326.6 110.6h0M311.2 142.8h0M190.7 133.5h0M296.5 140.8h0M238.3 144.5h0M359.5 139.2h0M204.7 180.4h0M291.9 155.6h0M335.2 159.4h0M255.9 167.4h0M307.3 122.4h0M239.5 165.1h0M325.3 156.5h0M302.5 110.3h0M269.7 128.6h0M351.2 133.5h0M278.6 126.0h0M237.8 134.8h0M252.0 167.9h0M280.4 164.2h0M201.4 179.2h0M250.5 131.2h0M255.0 168.9h0M193.5 168.7h0M305.2 146.3h0M288.4 146.6h0M246.3 181.7h0M189.0 180.4h0M287.2 122.0h0M247.1 145.4h0M316.8 169.6h0M269.7 179.2h0M271.8 172.4h0M312.6 159.3h0M274.8 182.5h0M186.7 170.2h0M291.2 131.3h0M285.6 149.4h0M253.7 172.0h0M293.8 146.9h0M246.2 140.9h0M284.9 101.8h0M200.6 168.0h0M265.3 157.3h0M214.7 168.2h0M311.0 151.7h0M199.6 178.5h0M258.6 169.1h0M179.2 185.7h0M329.9 141.4h0M275.1 166.6h0M279.6 104.4h0M305.1 174.6h0M283.8 161.8h0M306.4 150.5h0M243.7 130.7h0M240.0 166.5h0M193.6 196.7h0M338.0 167.2h0M256.9 149.0h0M261.0 175.3h0M185.7 167.0h0M317.6 159.1h0M314.9 146.0h0M225.1 143.6h0M204.4 172.3h0M202.4 166.3h0M247.4 112.2h0M298.8 138.9h0M311.1 127.5h0M272.6 167.6h0M268.2 160.9h0M280.5 154.5h0M253.4 138.6h0M289.1 143.1h0M224.5 107.6h0M285.9 164.2h0M251.2 165.3h0M285.9 116.5h0M261.4 149.0h0M289.8 126.7h0M242.1 180.4h0M239.7 166.4h0M209.2 167.7h0M326.5 159.7h0M327.9 134.7h0M324.1 148.1h0M284.4 148.0h0M262.8 169.9h0M306.8 145.0h0M295.1 156.8h0M287.6 164.1h0M284.7 153.5h0M221.8 159.3h0M268.5 148.1h0M225.0 146.4h0M335.4 131.6h0M257.9 175.0h0M288.9 139.2h0M325.3 143.3h0M265.7 151.8h0M325.8 143.4h0M303.4 156.4h0M251.7 191.3h0M245.9 167.7h0M322.4 139.5h0M322.5 147.1h0M317.8 143.5h0M320.3 155.5h0M222.1 167.8h0M226.1 153.7h0M251.6 150.7h0M258.6 171.2h0M278.3 183.8h0M323.5 137.3h0M285.4 128.8h0M217.7 155.9h0M246.5 146.5h0M309.2 151.3h0M251.6 176.3h0M241.8 175.0h0M283.0 151.3h0M235.1 131.1h0M316.8 178.2h0M287.4 130.7h0M322.0 169.9h0M254.8 156.2h0M324.1 127.9h0M252.3 140.6h0M319.1 125.2h0M219.1 178.9h0M270.5 129.4h0M305.1 161.2h0M288.5 122.5h0M300.4 143.2h0M296.6 157.9h0M245.2 177.9h0M232.2 187.1h0M289.3 148.5h0M327.2 125.7h0M251.2 147.3h0M202.8 162.8h0M217.8 172.8h0M255.9 167.5h0M215.0 170.2h0M243.7 170.2h0M325.3 130.6h0M222.0 171.5h0M215.9 146.1h0M216.9 146.1h0M274.2 138.8h0M270.7 138.5h0M304.9 124.2h0M273.7 157.2h0M267.8 129.0h0M284.6 153.3h0M204.8 184.3h0M341.1 141.9h0M266.1 135.9h0M238.5 148.2h0M293.8 158.5h0M280.4 142.4h0M271.4 126.1h0M228.3 190.2h0M267.2 162.4h0M222.6 174.0h0M281.1 175.3h0M292.4 128.3h0M216.9 166.7h0M316.2 143.3h0M261.1 122.9h0M310.6 128.6h0M250.7 142.5h0M337.9 159.6h0M242.1 132.7h0M216.8 183.3h0M261.5 146.0h0M263.7 136.9h0M235.5 165.0h0M317.0 158.1h0M328.1 154.0h0M320.6 170.1h0M285.1 138.4h0M314.7 142.6h0M229.5 137.9h0M323.2 131.1h0M263.5 123.0h0M281.3 123.1h0M212.5 174.5h0M330.8 153.6h0M263.6 177.6h0M266.8 171.7h0M214.4 166.7h0M315.0 168.3h0M251.0 193.7h0M308.6 150.2h0M302.5 142.1h0M219.1 141.7h0M235.8 144.5h0M219.9 150.7h0M265.6 156.2h0M290.7 166.6h0M268.6 122.2h0M274.2 169.9h0M276.2 120.7h0M257.2 165.4h0M279.8 129.4h0M244.5 177.0h0M293.3 125.2h0M213.2 187.9h0M264.8 178.6h0M263.0 145.4h0M261.2 123.4h0M254.3 128.5h0M311.4 140.2h0M214.9 186.0h0M239.1 184.1h0M294.3 156.8h0M302.1 135.2h0M230.9 139.3h0M219.0 180.3h0M240.5 163.7h0M207.4 160.8h0M241.4 169.9h0M286.1 174.9h0M326.6 130.5h0M238.6 163.3h0M310.4 135.0h0M315.5 124.7h0M219.5 151.5h0M278.4 146.1h0M273.2 145.1h0M206.6 164.5h0M285.4 159.7h0M253.2 161.7h0M266.5 141.9h0M220.6 180.2h0M242.4 147.6h0M279.3 160.2h0M331.1 149.1h0M325.4 139.4h0M320.5 136.8h0M268.8 186.4h0M330.4 146.8h0M261.2 143.3h0M266.7 161.8h0M315.5 142.4h0M273.0 161.6h0M224.6 170.1h0M338.6 143.0h0M295.5 155.0h0M306.1 126.0h0M275.7 127.5h0M294.4 129.0h0M293.1 184.1h0M218.2 177.8h0M238.0 160.3h0M342.4 140.8h0M289.4 126.1h0M243.9 190.6h0M217.8 147.8h0M277.8 117.5h0M232.9 149.7h0M192.4 163.2h0M237.0 99.2h0M217.8 182.0h0M235.0 160.5h0M206.1 163.2h0M206.7 184.9h0M261.5 167.1h0M254.4 120.5h0M342.8 152.7h0M203.2 153.9h0M300.1 142.8h0M239.0 161.3h0M214.3 133.2h0M232.7 158.9h0M204.6 170.9h0M320.9 105.5h0M197.5 184.9h0M229.5 109.9h0M202.0 213.3h0M295.5 117.1h0M185.2 134.2h0M178.8 138.2h0M244.2 130.5h0M210.5 136.8h0M311.8 167.7h0M271.0 121.5h0M255.2 168.0h0M233.1 180.8h0M293.1 145.5h0M246.1 197.3h0M213.9 177.7h0M218.6 166.1h0M314.9 119.0h0M185.7 173.0h0M335.0 123.9h0M247.4 141.1h0M352.4 134.5h0M180.4 175.9h0M236.8 158.6h0M209.3 141.5h0M203.0 197.4h0M370.9 85.4h0M273.9 172.9h0M232.4 131.9h0M334.7 131.4h0M343.6 149.3h0M250.7 147.5h0M316.2 174.0h0M253.3 127.2h0M192.7 147.8h0M224.1 186.6h0M212.2 180.2h0M304.6 158.1h0M226.5 163.2h0M222.2 155.2h0M217.0 186.5h0M233.6 177.2h0M205.1 167.6h0M284.4 158.2h0M206.7 197.6h0M243.0 185.0h0M219.5 186.4h0M249.1 167.6h0M210.9 171.2h0M198.6 144.4h0M203.9 171.2h0M253.9 194.2h0M201.0 177.8h0M253.0 155.6h0M201.0 202.1h0M230.4 197.4h0M244.3 180.7h0M242.2 167.7h0M217.2 189.5h0M185.4 181.3h0M243.7 182.2h0M233.0 178.5h0M234.9 160.1h0M218.8 186.7h0M196.6 180.2h0M212.9 173.4h0M235.8 177.0h0M236.3 210.5h0M232.5 192.6h0M217.5 175.1h0M211.5 189.0h0M213.1 174.2h0M213.0 188.0h0M277.6 186.7h0M261.5 168.7h0M188.2 191.7h0M245.7 185.8h0M218.3 190.4h0M177.8 189.8h0M231.6 148.9h0M233.1 172.6h0M207.2 180.9h0M228.4 178.9h0M180.6 173.1h0M284.8 160.3h0M226.4 207.8h0M232.4 163.8h0M248.7 150.9h0M188.2 182.0h0M184.2 166.8h0M280.1 184.1h0M242.6 163.6h0M214.1 192.2h0M220.5 173.4h0M207.8 197.6h0M253.2 179.7h0M218.0 164.7h0M199.3 164.6h0M209.6 160.5h0M215.7 188.1h0M227.5 179.0h0M201.7 178.4h0M209.8 177.4h0M216.5 174.7h0M260.1 198.5h0M211.3 168.9h0M232.8 153.7h0M206.1 179.8h0M207.9 171.7h0M246.5 173.1h0M213.7 156.7h0M229.8 163.9h0M244.4 195.5h0M228.4 174.2h0M202.0 197.1h0M235.2 197.4h0M217.3 160.6h0M227.8 191.6h0M202.8 193.2h0M199.7 197.6h0M320.5 92.9h0M335.7 110.3h0M303.0 175.3h0M289.7 115.2h0M319.3 139.3h0M295.3 148.4h0M329.6 105.9h0M305.9 105.1h0M284.5 113.6h0M326.0 103.3h0M311.7 132.6h0M328.6 140.5h0M343.0 91.3h0M301.3 112.0h0M341.1 138.8h0M323.6 97.1h0M341.2 148.9h0M312.1 135.1h0M340.3 128.8h0M308.6 129.0h0M304.5 147.9h0M321.0 110.0h0M317.9 114.2h0M314.9 124.4h0M322.5 115.0h0M345.9 133.7h0M303.7 107.9h0M275.8 135.6h0M331.9 144.5h0M370.0 128.5h0M348.5 128.8h0M290.3 118.9h0M333.0 113.1h0M350.1 94.8h0M344.5 149.1h0M302.6 84.5h0M276.8 94.9h0M310.8 95.1h0M347.7 86.1h0M356.4 92.4h0M364.1 105.0h0M258.6 103.0h0M301.1 86.9h0M324.3 150.3h0M318.4 170.9h0M331.9 150.2h0M307.1 174.3h0M278.1 178.9h0M293.0 171.7h0M265.8 192.2h0M304.5 164.5h0M305.5 155.4h0M274.9 176.5h0M330.0 168.0h0M312.8 166.2h0M340.8 147.3h0M296.1 179.7h0M295.8 176.1h0M330.8 165.9h0M226.3 193.8h0M329.2 156.1h0M334.7 139.0h0M346.9 157.9h0M231.9 201.4h0M336.9 157.0h0M298.4 170.3h0M268.5 190.8h0M288.7 171.6h0M351.8 141.6h0M360.7 130.8h0M268.4 192.1h0M294.6 162.5h0M354.0 154.1h0M282.8 187.7h0M290.1 171.2h0M319.0 166.5h0M342.0 163.3h0M308.0 177.9h0M307.5 157.8h0M289.4 178.9h0M326.0 155.4h0M283.1 186.6h0M321.3 161.4h0M285.6 174.8h0M317.6 163.6h0M270.4 180.0h0M304.4 178.9h0M319.6 172.5h0M352.9 156.8h0M333.1 152.5h0M345.0 160.7h0M294.8 182.0h0M276.1 189.2h0M320.1 164.8h0M300.0 175.2h0M326.4 144.8h0M359.1 146.1h0M291.1 169.6h0M341.2 157.4h0M324.3 171.1h0M330.6 146.3h0M333.1 151.9h0M267.5 149.1h0M233.3 204.5h0M350.2 157.0h0" stroke="#00ffff" stroke-width="3.75" stroke-linecap="round" fill="none" transform="scale(1,1.16)"/>
<path d="M317.1 229.2h0M330.3 224.5h0M285.9 239.6h0M297.7 196.6h0M313.8 225.1h0M283.3 202.5h0M331.8 214.4h0M290.5 195.6h0M308.3 196.6h0M324.0 255.3h0M305.6 205.4h0M273.6 271.5h0M314.3 235.9h0M314.0 211.4h0M327.9 215.4h0M310.9 211.7h0M302.0 192.5h0M276.5 224.9h0M286.5 219.3h0M284.5 236.6h0M316.5 215.4h0M338.2 217.1h0M293.4 205.7h0M317.3 222.3h0M344.1 165.8h0M334.0 230.9h0M299.2 217.0h0M302.4 181.3h0M340.8 179.5h0M292.6 245.4h0M327.8 188.2h0M335.9 198.8h0M295.9 223.8h0M309.7 201.5h0M317.3 177.0h0M276.6 246.2h0M316.9 230.0h0M263.5 181.9h0M338.1 224.8h0M295.3 249.4h0M306.1 238.7h0M297.1 198.4h0M293.2 228.2h0M325.8 178.1h0M337.6 238.7h0M348.7 183.0h0M287.2 212.7h0M338.0 196.6h0M338.1 221.2h0M304.3 217.7h0M294.3 257.4h0M317.0 207.6h0M301.5 216.3h0M331.6 221.0h0M298.1 234.1h0M294.6 245.8h0M308.8 225.5h0M333.1 204.9h0M294.1 226.5h0M283.7 247.2h0M330.4 244.4h0M282.7 222.7h0M367.8 190.7h0M353.7 213.6h0M342.2 192.7h0M280.5 209.4h0M323.1 220.7h0M291.8 239.9h0M273.4 261.5h0M280.4 259.0h0M262.3 213.4h0M309.4 208.2h0M367.8 179.3h0M299.5 220.8h0M267.4 251.7h0M320.2 239.3h0M311.8 208.2h0M297.6 253.6h0M322.9 243.7h0M332.6 217.5h0M293.3 212.0h0M317.5 212.7h0M339.1 233.7h0M292.7 215.6h0M336.7 192.0h0M332.1 224.3h0M361.3 228.6h0M318.1 227.5h0M253.9 199.0h0M305.8 213.6h0M334.2 224.6h0M329.1 217.0h0M340.3 168.6h0M267.5 231.0h0M308.7 217.0h0M306.0 180.1h0M314.0 216.0h0M347.0 238.5h0M288.7 210.7h0M284.2 231.2h0M305.0 186.1h0M335.3 214.4h0M307.8 228.6h0M327.4 192.6h0M283.2 240.2h0M281.7 234.7h0M301.9 194.0h0M320.3 216.6h0M308.0 255.1h0M303.2 240.7h0M305.0 238.3h0M329.1 222.7h0M289.0 214.8h0M297.6 200.2h0M287.6 212.9h0M298.9 204.9h0M322.9 214.6h0M321.3 215.1h0M314.3 201.1h0M348.9 227.4h0M296.1 226.7h0M344.2 238.0h0M295.1 174.2h0M290.9 220.5h0M320.7 223.6h0M335.6 183.4h0M328.5 209.3h0M290.1 239.6h0M321.9 217.5h0M332.9 165.7h0M278.8 258.9h0M326.8 211.2h0M341.2 226.9h0M316.2 253.9h0M341.7 229.3h0M316.9 238.9h0M271.7 206.8h0M297.2 232.2h0M299.1 207.1h0M306.2 241.2h0M261.9 234.8h0M292.1 235.5h0M298.0 204.9h0M305.4 184.9h0M331.0 238.4h0M333.4 245.5h0M316.0 238.5h0M262.7 242.5h0M281.9 261.8h0M282.4 233.4h0M348.4 209.8h0M311.9 203.0h0M306.1 179.9h0M333.1 209.6h0M326.3 204.6h0M335.4 176.1h0M320.9 232.0h0M311.2 260.7h0M297.2 197.0h0M320.4 239.0h0M301.2 254.6h0M305.0 212.9h0M312.9 222.8h0M337.1 205.5h0M352.9 200.0h0M335.6 241.0h0M299.0 260.9h0M338.7 180.9h0M294.5 199.1h0M304.2 257.8h0M273.8 247.9h0M320.8 201.7h0M303.1 212.0h0M303.3 194.0h0M307.2 260.1h0M336.4 176.5h0M340.3 214.3h0M294.6 217.6h0M331.3 223.7h0M284.5 224.4h0M286.9 208.4h0M346.4 201.2h0M300.3 187.1h0M318.3 250.1h0M305.2 205.4h0M314.4 258.4h0M288.8 249.8h0M301.7 225.7h0M337.8 181.7h0M305.7 197.8h0M353.4 191.6h0M315.2 202.3h0M331.4 177.7h0M348.9 202.8h0M294.6 225.1h0M309.4 207.3h0M313.2 231.5h0M316.2 194.6h0M289.4 203.2h0M318.5 209.7h0M347.7 186.7h0M298.0 246.7h0M293.7 230.3h0M328.6 193.5h0M350.7 195.0h0M293.5 253.4h0M330.5 178.3h0M275.2 205.9h0M325.7 244.9h0M322.5 220.0h0M331.0 217.2h0M325.0 204.6h0M288.4 201.3h0M329.3 208.6h0M287.0 232.3h0M285.2 252.1h0M320.7 189.0h0M280.7 249.2h0M316.6 254.0h0M294.3 234.1h0M301.5 193.4h0M330.7 208.2h0M293.5 186.2h0M343.9 182.5h0M282.6 218.9h0M346.5 229.7h0M271.4 209.8h0M341.4 231.2h0M293.8 229.7h0M308.8 198.3h0M291.0 256.2h0M313.8 195.8h0M327.1 225.7h0M305.9 217.4h0M323.1 212.6h0M272.9 206.4h0M310.8 196.9h0M315.5 234.6h0M280.3 214.2h0M299.5 256.3h0M345.5 194.9h0M269.3 249.3h0M330.7 195.3h0M315.7 258.2h0M317.0 251.1h0M318.4 201.2h0M308.1 216.2h0M280.8 212.3h0M344.4 208.1h0M334.2 207.7h0M277.1 204.2h0M269.8 208.7h0M324.4 191.8h0M352.5 196.1h0M321.8 221.5h0M296.2 234.3h0M310.8 262.2h0M353.0 246.7h0M316.4 196.7h0M348.0 212.1h0M279.1 209.3h0M334.9 178.5h0M295.8 201.6h0M291.1 224.4h0M366.8 194.0h0M356.9 226.0h0M318.9 210.0h0M351.8 196.3h0M335.2 242.5h0M288.8 188.6h0M285.3 207.3h0M369.6 210.4h0M335.9 218.0h0M269.1 194.8h0M300.3 204.1h0M348.9 176.7h0M294.8 244.9h0M310.5 231.2h0M274.0 226.5h0M270.2 233.5h0M340.2 175.0h0M309.5 273.6h0M254.4 191.3h0M361.8 194.7h0M260.4 252.8h0M252.3 203.2h0M306.3 195.1h0M285.2 270.8h0M253.3 200.9h0M337.8 209.2h0M322.1 206.2h0M353.0 189.2h0M341.1 175.9h0M342.5 175.9h0M358.8 195.3h0M277.0 192.5h0M295.8 182.8h0M333.8 179.9h0M265.0 212.9h0M327.4 197.9h0M313.4 248.1h0M302.7 247.5h0M316.9 199.0h0M295.4 263.6h0M316.6 233.3h0M325.4 261.0h0M356.6 181.2h0M287.4 164.1h0M317.0 256.0h0M300.9 261.8h0M336.4 219.9h0M275.1 268.6h0M318.9 247.3h0M292.5 181.3h0M378.4 206.3h0M386.1 206.3h0M387.6 219.6h0M368.1 235.3h0M347.2 271.8h0M305.4 194.2h0M326.2 174.9h0M281.3 193.6h0M320.0 174.4h0M320.0 176.4h0M326.5 177.7h0M363.5 182.6h0M325.6 180.6h0M335.1 177.8h0M312.9 195.4h0M305.1 195.1h0M257.3 204.0h0M315.0 186.5h0M341.6 177.0h0M336.6 189.9h0M334.7 192.2h0M323.3 188.9h0M334.4 188.7h0M365.1 158.8h0M284.1 196.3h0M331.9 194.9h0M397.6 162.6h0M340.8 194.7h0M394.3 153.1h0" stroke="#ff0000" stroke-width="3.75" stroke-linecap="round" fill="none" transform="scale(1,1.16)"/>
<path d="M236.8 231.8h0M231.2 244.4h0M241.4 223.7h0M212.7 229.1h0M187.8 209.5h0M181.2 264.2h0M232.8 225.9h0M190.0 246.6h0M230.5 242.1h0M226.1 222.4h0M211.8 234.3h0M244.3 232.2h0M209.1 252.0h0M223.5 221.5h0M215.4 239.3h0M224.4 254.2h0M274.3 247.4h0M242.9 224.4h0M234.3 240.6h0M245.1 242.0h0M244.4 236.9h0M197.3 220.4h0M248.8 226.3h0M204.4 209.4h0M197.8 231.6h0M321.4 220.3h0M227.8 224.1h0M199.7 218.5h0M251.7 251.9h0M201.8 265.2h0M190.2 250.3h0M265.9 224.4h0M214.6 208.4h0M200.8 258.6h0M228.0 255.8h0M201.3 258.3h0M243.5 219.1h0M242.9 222.4h0M177.5 226.2h0M198.0 210.8h0M188.2 250.8h0M194.2 231.3h0M206.0 245.9h0M230.1 241.7h0M189.4 256.9h0M179.2 225.5h0M250.4 245.5h0M244.8 238.1h0M261.6 237.3h0M194.1 247.1h0M243.3 240.3h0M211.9 222.2h0M177.2 238.4h0M248.2 259.0h0M236.3 264.6h0M192.4 233.0h0M187.0 242.8h0M227.4 232.3h0M237.9 248.5h0M201.1 229.4h0M219.7 257.9h0M207.9 251.0h0M228.4 223.0h0M219.6 234.3h0M213.5 230.6h0M241.1 251.6h0M199.5 240.0h0M215.7 256.4h0M187.9 224.2h0M214.7 210.0h0M195.3 226.3h0M193.5 208.7h0M209.8 225.7h0M236.7 202.0h0M260.6 201.7h0M179.4 237.9h0M185.5 249.5h0M220.1 264.5h0M223.8 259.0h0M222.2 222.8h0M196.1 239.1h0M236.8 248.2h0M189.2 236.5h0M254.5 219.6h0M250.9 229.4h0M213.1 216.4h0M198.2 249.5h0M232.7 215.0h0M238.8 247.6h0M199.7 223.8h0M238.5 223.0h0M189.4 254.7h0M209.5 218.7h0M210.3 238.3h0M234.4 232.1h0M223.4 229.8h0M227.8 217.4h0M207.2 211.5h0M242.5 239.4h0M241.8 209.5h0M236.7 236.9h0M237.9 222.0h0M203.7 213.1h0M244.4 222.4h0M225.8 222.3h0M183.9 233.1h0M199.2 234.1h0M225.6 214.5h0M213.1 220.4h0M194.8 235.2h0M230.2 227.9h0M249.4 232.5h0M241.2 251.1h0M247.4 216.5h0M201.5 230.2h0M204.3 224.4h0M215.0 250.8h0M231.3 256.1h0M247.9 211.3h0M210.5 260.8h0M250.6 220.7h0M226.2 224.5h0M187.9 247.4h0M225.9 218.2h0M231.1 211.4h0M221.9 238.2h0M225.8 256.0h0M184.5 208.0h0M193.0 257.7h0M243.8 253.9h0M235.7 248.8h0M257.7 236.8h0M184.0 231.6h0M277.5 210.0h0M244.0 216.5h0M186.2 258.1h0M233.1 194.5h0M211.7 237.6h0M237.2 220.9h0M206.0 199.8h0M213.9 229.2h0M234.9 241.1h0M205.3 247.0h0M202.6 232.0h0M217.8 255.1h0M212.8 207.1h0M244.1 261.1h0M259.6 242.0h0M248.9 226.5h0M239.4 224.7h0M229.7 236.8h0M244.4 238.3h0M256.6 194.1h0M312.1 244.2h0M227.9 212.0h0M194.9 238.7h0M241.6 226.5h0M198.4 232.3h0M205.0 246.0h0M207.9 234.0h0M236.6 241.1h0M229.4 241.6h0M182.2 252.5h0M203.9 268.1h0M228.1 232.9h0M201.9 244.4h0M228.2 230.4h0M227.0 206.4h0M235.1 241.8h0M244.7 230.7h0M196.2 247.3h0M203.9 250.3h0M210.6 250.1h0M210.0 245.5h0M232.7 238.1h0M220.8 221.8h0M202.5 238.8h0M210.9 247.5h0M194.6 233.3h0M213.3 250.8h0M193.1 236.5h0M248.1 234.0h0M232.1 244.3h0M210.4 236.8h0M212.2 229.5h0M229.1 232.3h0M221.6 259.9h0M242.6 255.9h0M220.6 241.5h0M256.7 238.6h0M232.1 254.0h0M197.4 235.6h0M199.4 238.2h0M205.8 229.6h0M246.4 233.9h0M208.1 223.9h0M234.6 245.4h0M194.5 248.1h0M224.9 233.0h0M198.6 239.4h0M213.2 257.6h0M219.2 249.0h0M192.8 238.0h0M256.4 234.3h0M200.3 250.9h0M209.8 245.0h0M246.3 238.6h0M233.7 241.0h0M175.6 241.7h0M222.9 233.2h0M237.3 246.5h0M195.0 219.5h0M216.9 237.8h0M205.4 243.9h0M200.5 223.3h0M246.5 236.8h0M236.9 250.6h0M206.9 256.2h0M198.4 249.7h0M231.9 245.6h0M225.8 258.3h0M213.3 245.7h0M223.9 249.2h0M192.9 230.8h0M204.2 238.1h0M207.4 251.2h0M236.3 227.6h0M218.0 242.9h0M205.7 263.7h0M205.5 242.9h0M232.8 223.7h0M223.8 239.3h0M210.5 248.5h0M239.2 208.9h0M247.0 245.0h0M211.0 223.3h0M288.4 195.5h0M276.4 213.6h0M318.4 178.8h0M236.3 215.0h0M266.0 196.5h0M282.1 198.8h0M300.8 205.6h0M350.7 166.6h0M322.0 173.5h0M304.4 188.7h0M254.1 212.8h0M269.9 209.8h0M308.6 191.1h0M273.0 222.2h0M280.7 204.8h0M322.7 176.0h0M206.9 249.9h0M274.8 193.4h0M231.7 217.1h0M265.2 223.6h0M238.3 213.4h0M269.7 200.4h0M269.9 195.8h0M307.5 178.5h0M242.6 208.7h0M332.2 185.0h0M300.9 190.5h0M323.7 175.8h0M268.7 218.3h0M238.2 215.8h0M289.8 196.2h0M325.6 180.2h0M282.2 210.5h0M335.9 172.8h0M315.0 181.9h0M314.4 194.5h0M270.9 203.3h0M293.4 204.6h0M271.1 208.1h0M303.7 189.9h0M285.1 206.1h0M235.5 216.6h0M296.5 191.8h0M301.9 184.6h0M309.1 187.0h0M270.3 231.6h0M321.0 209.2h0M279.7 201.4h0M214.6 229.4h0M284.6 198.3h0M245.8 220.2h0M284.1 259.1h0M250.1 251.1h0M274.2 234.8h0M271.7 248.8h0M255.2 233.4h0M264.7 231.7h0M277.1 242.9h0M308.2 248.2h0M246.0 245.6h0M275.6 228.7h0M275.6 194.2h0M368.2 168.6h0M287.2 236.4h0M307.4 226.7h0M289.8 225.2h0M290.0 190.8h0M270.9 230.7h0M271.0 258.9h0M336.8 205.2h0M289.3 223.3h0M298.2 219.5h0M301.2 257.5h0M312.8 246.3h0M278.7 254.7h0M271.4 248.6h0M292.6 257.5h0M263.7 235.6h0M268.0 241.3h0M260.8 236.1h0M274.5 229.7h0M238.2 270.5h0M269.7 203.1h0M267.8 238.1h0M269.8 259.7h0M248.5 205.6h0M270.7 261.7h0M150.4 181.7h0M137.5 165.1h0M126.7 177.6h0M133.2 190.8h0M173.3 188.3h0M100.6 151.6h0M118.4 185.8h0M122.4 247.8h0M151.5 177.9h0M280.0 173.5h0M265.7 149.8h0M318.4 163.1h0M268.5 144.4h0M340.0 152.2h0M336.5 139.2h0M355.3 146.1h0M306.3 172.1h0M280.1 174.2h0M254.7 157.9h0M304.7 155.6h0M216.9 166.1h0M216.6 164.8h0M274.3 134.0h0M252.1 111.6h0M227.9 190.0h0M203.6 195.1h0M216.9 154.0h0M308.0 132.1h0M308.2 117.2h0M291.5 131.8h0M141.8 67.7h0M168.0 97.9h0M75.8 256.1h0M208.9 317.0h0M257.0 321.7h0M313.4 302.1h0M231.4 304.0h0M215.1 293.4h0M261.1 287.6h0M284.2 281.7h0M364.6 81.4h0M388.1 171.7h0M181.8 144.2h0M189.5 266.0h0M194.6 218.8h0M176.7 207.1h0M240.7 277.7h0M225.3 273.8h0" stroke="#007c00" stroke-width="3.75" stroke-linecap="round" fill="none" transform="scale(1,1.16)"/>
<rect x="62.5" y="71.9" width="367.9" height="328.1" fill="none" stroke="#3a3a3a" stroke-width="1.3"/>
<path d="M71.70 400.0v-5M71.70 71.9v5M174.10 400.0v-5M174.10 71.9v5M276.50 400.0v-5M276.50 71.9v5M378.90 400.0v-5M378.90 71.9v5M62.5 390.50h5M430.4 390.50h-5M62.5 344.95h5M430.4 344.95h-5M62.5 299.40h5M430.4 299.40h-5M62.5 253.85h5M430.4 253.85h-5M62.5 208.30h5M430.4 208.30h-5M62.5 162.75h5M430.4 162.75h-5M62.5 117.20h5M430.4 117.20h-5M62.5 71.65h5M430.4 71.65h-5" stroke="#3a3a3a" stroke-width="1" fill="none"/>
<g class="tk">
<text transform="translate(72.30,426.6) scale(0.79,1)" text-anchor="middle">0</text>
<text transform="translate(174.70,426.6) scale(0.79,1)" text-anchor="middle">200</text>
<text transform="translate(277.10,426.6) scale(0.79,1)" text-anchor="middle">400</text>
<text transform="translate(379.50,426.6) scale(0.79,1)" text-anchor="middle">600</text>
<text transform="translate(60.8,400.50) scale(0.79,1)" text-anchor="end">0</text>
<text transform="translate(60.8,354.95) scale(0.79,1)" text-anchor="end">100</text>
<text transform="translate(60.8,309.40) scale(0.79,1)" text-anchor="end">200</text>
<text transform="translate(60.8,263.85) scale(0.79,1)" text-anchor="end">300</text>
<text transform="translate(60.8,218.30) scale(0.79,1)" text-anchor="end">400</text>
<text transform="translate(60.8,172.75) scale(0.79,1)" text-anchor="end">500</text>
<text transform="translate(60.8,127.20) scale(0.79,1)" text-anchor="end">600</text>
<text transform="translate(60.8,81.65) scale(0.79,1)" text-anchor="end">700</text>
<text transform="translate(245.8,449.4) scale(0.772,1)" text-anchor="middle">CD4 FITC</text>
<text transform="translate(15.2,235.5) rotate(-90) scale(1.0,0.97)" style="font-size:24.6px" text-anchor="middle" textLength="108" lengthAdjust="spacing">CD8β PE</text>
</g>
<text class="tt" y="30.3"><tspan x="123.4" textLength="41.4" lengthAdjust="spacingAndGlyphs">ICL.</tspan> <tspan x="175.0" textLength="49.8" lengthAdjust="spacingAndGlyphs">K=9.</tspan> <tspan x="236.3" textLength="108.3" lengthAdjust="spacingAndGlyphs">ENT=3235</tspan></text>
<text class="cp" x="218.5" y="503.3" textLength="30.7" lengthAdjust="spacing">(b)</text>
</g>
<g transform="translate(0,535.8)">
<path d="M153.9 308.0h0M131.3 303.3h0M111.9 310.4h0M140.6 276.5h0M144.0 315.9h0M148.5 303.1h0M134.8 302.7h0M152.2 298.0h0M155.0 300.3h0M117.5 300.6h0M155.6 292.8h0M136.3 327.9h0M125.0 306.5h0M128.8 324.1h0M162.5 303.3h0M148.8 323.3h0M106.2 320.2h0M134.9 307.5h0M131.5 286.9h0M131.0 298.5h0M125.8 302.4h0M111.3 286.8h0M146.9 320.0h0M128.0 312.6h0M124.4 310.5h0M122.5 289.2h0M145.1 276.4h0M139.5 325.4h0M123.3 271.6h0M119.1 284.5h0M126.4 294.7h0M148.5 301.4h0M135.6 272.3h0M137.2 305.5h0M128.6 313.3h0M129.7 304.6h0M137.0 326.0h0M105.3 299.9h0M158.4 308.1h0M121.6 301.9h0M124.9 301.5h0M154.2 321.6h0M137.1 288.0h0M134.3 320.9h0M124.7 294.0h0M109.7 329.1h0M136.5 301.3h0M152.0 318.2h0M119.8 306.0h0M154.6 315.8h0M122.4 322.3h0M141.4 305.6h0M133.7 297.8h0M144.3 327.3h0M117.8 318.9h0M105.0 309.6h0M115.2 315.5h0M117.1 318.0h0M111.7 294.6h0M138.4 292.9h0M123.5 296.1h0M103.1 319.8h0M171.8 305.5h0M120.8 309.3h0M114.4 326.8h0M152.7 294.1h0M151.6 305.3h0M116.0 313.4h0M111.0 286.5h0M118.3 295.8h0M151.0 294.5h0M128.9 289.6h0M121.2 296.4h0M133.2 324.5h0M152.1 312.1h0M112.3 292.4h0M127.8 317.5h0M112.4 306.1h0M167.0 301.0h0M161.6 286.2h0M148.3 288.2h0M131.6 293.9h0M143.8 309.2h0M101.4 293.7h0M137.9 299.1h0M113.1 308.9h0M113.3 287.4h0M122.8 299.6h0M128.3 317.3h0M142.5 288.7h0M144.4 310.2h0M137.7 298.2h0M119.1 328.2h0M144.0 306.9h0M131.8 320.0h0M151.8 320.4h0M119.6 333.6h0M91.2 276.3h0M126.3 308.8h0M166.7 303.3h0M140.9 291.0h0M130.7 308.4h0M147.2 299.4h0M141.4 325.9h0M140.7 303.9h0M125.8 312.5h0M134.8 299.6h0M136.7 304.1h0M123.8 326.3h0M116.5 332.8h0M135.8 321.0h0M148.5 296.3h0M143.6 300.7h0M141.2 301.0h0M141.4 335.2h0M137.6 315.5h0M149.7 311.4h0M163.7 315.2h0M134.5 301.7h0M137.7 309.1h0M149.7 323.5h0M159.6 319.2h0M138.5 304.7h0M139.2 305.7h0M135.0 307.8h0M115.1 274.7h0M150.8 310.5h0M129.8 305.0h0M107.3 320.8h0M131.4 311.8h0M107.1 299.3h0M118.2 298.7h0M134.0 309.0h0M119.6 301.2h0M150.2 306.0h0M111.2 333.4h0M142.3 274.1h0M156.2 295.0h0M147.9 307.6h0M137.4 331.4h0M135.0 324.8h0M132.9 287.6h0M123.7 311.4h0M141.8 294.5h0M134.1 299.8h0M149.1 310.9h0M127.4 308.0h0M105.3 298.8h0M97.1 323.0h0M137.3 312.5h0M165.7 316.8h0M129.2 301.0h0M156.4 326.4h0M117.5 307.8h0M101.5 291.4h0M165.0 303.9h0M169.1 321.7h0M168.3 316.1h0M119.8 302.1h0M102.2 295.3h0M101.8 288.7h0M125.1 307.2h0M144.9 329.3h0M143.1 277.6h0M95.3 298.8h0M135.4 296.8h0M131.0 298.7h0M132.8 324.0h0M130.0 310.5h0M125.6 299.6h0M145.2 285.0h0M133.7 303.3h0M113.6 309.0h0M140.3 297.8h0M127.6 280.1h0M78.6 291.0h0M142.5 257.5h0M124.1 277.6h0M153.3 279.0h0M126.6 286.7h0M128.2 330.5h0M135.8 288.5h0M130.3 293.1h0M119.6 314.4h0M86.5 293.4h0M175.9 296.6h0M91.8 313.2h0M122.2 306.8h0M146.6 309.4h0M139.9 300.1h0M144.5 312.4h0M149.5 294.2h0M137.9 309.8h0M105.7 313.5h0M136.2 294.7h0M121.7 304.0h0M117.2 306.5h0M137.6 303.1h0M166.4 274.9h0M113.1 325.3h0M113.1 287.7h0M148.4 332.9h0M143.9 313.2h0M155.8 320.5h0M136.2 300.6h0M122.5 290.7h0M135.9 326.9h0M126.3 305.9h0M97.0 311.5h0M126.3 308.0h0M124.9 319.5h0M120.0 279.2h0M172.1 320.9h0M147.7 272.4h0M153.6 314.5h0M115.6 267.9h0M105.4 294.3h0M123.6 295.9h0M148.1 261.4h0M149.6 262.0h0M157.3 277.7h0M162.3 255.9h0M130.4 274.2h0M116.5 263.2h0M94.7 258.3h0M129.8 272.2h0M147.4 285.7h0M141.5 259.6h0M137.5 283.4h0M130.3 280.3h0M125.9 283.2h0M131.3 256.5h0M141.7 270.3h0M108.6 298.9h0M146.9 257.9h0M126.0 275.9h0M130.0 267.0h0M119.6 261.1h0M117.9 255.8h0M132.1 267.6h0M119.0 283.1h0M173.4 257.7h0M129.2 259.6h0M125.5 286.3h0M127.2 273.1h0M119.1 264.4h0M97.9 268.1h0M131.7 260.9h0M140.4 257.1h0M112.5 260.6h0M135.7 269.7h0M117.0 286.6h0M135.0 259.6h0M141.1 248.8h0M74.2 286.8h0M102.4 251.0h0M122.9 245.5h0M135.7 249.5h0" stroke="#ffff00" stroke-width="3.75" stroke-linecap="round" fill="none" transform="scale(1,1.16)"/>
<path d="M257.6 283.7h0M230.3 265.3h0M230.0 282.6h0M289.7 304.0h0M250.8 298.3h0M206.0 316.2h0M303.4 293.2h0M277.2 334.5h0M302.0 302.7h0M264.1 331.0h0M279.0 327.9h0M276.3 292.7h0M249.1 288.3h0M191.5 322.1h0M215.1 282.9h0M226.8 293.8h0M235.1 273.0h0M244.9 270.7h0M283.8 279.3h0M253.0 304.7h0M274.3 270.0h0M234.9 273.8h0M188.4 291.5h0M222.3 286.4h0M234.3 298.3h0M226.6 275.6h0M229.0 276.8h0M296.2 284.4h0M235.7 303.6h0M207.7 303.8h0M258.5 312.5h0M199.1 269.8h0M240.5 296.1h0M200.2 271.6h0M255.6 320.4h0M281.2 320.9h0M194.8 285.4h0M245.0 284.8h0M296.8 307.2h0M194.6 286.0h0M290.6 272.3h0M292.4 289.2h0M223.5 298.1h0M291.9 316.4h0M242.4 324.0h0M269.6 270.7h0M243.7 278.7h0M284.0 287.5h0M281.3 323.8h0M290.8 284.9h0M186.8 284.3h0M191.3 281.7h0M285.3 335.3h0M248.8 316.9h0M244.2 290.2h0M192.8 283.1h0M223.2 280.7h0M239.6 334.6h0M280.6 288.8h0M187.7 287.6h0M263.6 288.5h0M251.4 333.2h0M256.2 317.0h0M193.4 299.9h0M259.5 301.7h0M285.9 303.2h0M254.6 316.1h0M236.4 307.9h0M245.0 301.6h0M238.3 291.8h0M277.1 286.7h0M200.8 313.5h0M296.7 334.8h0M217.5 333.3h0M253.2 282.9h0M264.5 297.0h0M267.1 334.8h0M278.2 326.7h0M266.3 269.2h0M253.2 285.0h0M330.8 296.5h0M222.8 266.4h0M228.9 292.5h0M191.4 282.0h0M276.6 321.2h0M234.6 331.2h0M262.0 306.7h0M242.9 265.1h0M218.0 300.3h0M299.3 309.0h0M255.3 310.1h0M261.3 320.8h0M239.3 274.7h0M274.7 277.3h0M288.4 304.1h0M268.2 273.3h0M299.3 315.7h0M304.5 317.5h0M265.0 312.5h0M233.2 290.3h0M263.4 326.1h0M301.2 281.4h0M237.5 315.7h0M222.5 300.9h0M302.4 316.9h0M254.1 302.6h0M237.0 317.0h0M245.4 315.6h0M267.9 270.1h0M221.3 321.7h0M237.5 295.7h0M265.7 284.7h0M275.8 273.9h0M241.0 292.6h0M253.6 302.7h0M208.5 293.3h0M223.7 278.6h0M259.9 314.2h0M182.4 288.0h0M226.7 297.9h0M283.1 267.8h0M244.0 291.7h0M193.3 294.8h0M269.9 287.5h0M233.1 324.1h0M280.4 305.6h0M249.9 335.4h0M268.1 326.2h0M229.8 329.3h0M269.5 301.7h0M276.7 313.3h0M213.1 323.7h0M214.7 273.8h0M196.7 282.1h0M200.9 319.7h0M226.3 311.8h0M190.7 275.9h0M241.9 273.3h0M294.7 290.2h0M225.0 292.2h0M208.2 327.6h0M237.5 293.5h0M241.0 285.1h0M242.8 292.9h0M209.5 302.6h0M230.1 324.6h0M256.9 279.2h0M252.3 326.3h0M225.9 310.9h0M207.0 271.2h0M201.7 321.1h0M219.0 285.9h0M291.0 279.3h0M203.9 277.0h0M279.0 276.8h0M313.1 312.7h0M236.1 303.5h0M224.9 311.9h0M303.1 317.4h0M198.4 313.0h0M229.7 271.3h0M252.0 288.4h0M268.1 318.7h0M238.4 308.6h0M202.6 308.2h0M246.5 301.5h0M245.4 312.0h0M249.5 306.7h0M274.8 269.3h0M267.1 268.0h0M237.6 318.1h0M290.0 294.6h0M292.1 298.6h0M244.9 319.8h0M210.6 320.4h0M230.5 302.5h0M257.9 307.1h0M283.0 292.1h0M238.9 303.3h0M255.2 291.3h0M234.6 282.0h0M274.7 291.8h0M281.7 302.8h0M205.9 309.3h0M290.8 284.2h0M254.6 272.1h0M252.3 301.9h0M268.1 272.3h0M260.2 285.3h0M276.2 312.1h0M173.6 293.5h0M196.2 320.3h0M280.2 308.7h0M256.0 327.6h0M175.5 314.7h0M271.3 269.4h0M207.4 296.6h0M230.4 299.3h0M312.6 324.7h0M226.9 301.0h0M332.2 302.1h0M240.0 328.8h0M246.7 289.9h0M313.7 312.8h0M249.2 301.7h0M226.8 322.7h0M329.2 301.6h0M293.6 334.3h0M300.1 281.1h0M210.2 271.7h0M301.0 266.5h0M268.8 270.5h0M259.2 308.6h0M213.4 290.8h0M244.0 288.5h0M296.2 279.3h0M275.0 309.8h0M201.0 319.5h0M272.1 300.6h0M289.2 308.0h0M254.1 294.4h0M225.5 316.2h0M299.1 311.6h0M256.2 295.6h0M190.0 285.7h0M233.8 291.5h0M252.9 296.4h0M260.3 307.1h0M229.6 290.9h0M240.4 280.7h0M277.1 330.2h0M244.4 317.7h0M264.9 329.6h0M283.4 288.3h0M281.9 301.9h0M214.4 302.7h0M210.2 287.1h0M252.5 286.7h0M219.2 283.9h0M210.4 322.5h0M218.7 285.3h0M264.3 311.6h0M257.0 285.1h0M244.4 284.1h0M210.2 268.2h0M245.1 285.2h0M184.4 275.7h0M213.0 321.5h0M242.7 289.6h0M280.3 324.7h0M265.9 316.3h0M219.8 306.2h0M287.5 321.4h0M254.2 280.6h0M258.4 332.9h0M274.1 296.6h0M228.6 284.9h0M263.7 269.2h0M210.8 299.0h0M259.8 310.7h0M242.9 319.9h0M249.9 282.4h0M246.6 286.0h0M265.3 277.9h0M263.2 295.2h0M254.1 286.2h0M196.1 269.5h0M244.7 293.9h0M234.9 281.7h0M238.5 299.4h0M307.9 316.1h0M274.4 287.8h0M255.7 315.5h0M235.1 310.1h0M215.1 277.2h0M207.3 300.3h0M262.2 309.4h0M270.3 280.4h0M198.0 306.3h0M212.0 311.4h0M212.6 291.3h0M278.9 281.2h0M237.4 302.1h0M214.2 294.7h0M262.8 293.3h0M225.3 325.1h0M205.3 297.9h0M302.0 275.8h0M266.9 316.0h0M238.9 302.4h0M274.5 302.8h0M330.2 282.1h0M284.3 298.8h0M201.3 330.4h0M292.3 290.8h0M181.5 273.0h0M285.3 281.7h0M239.3 296.2h0M234.4 321.7h0M256.6 276.1h0M269.2 325.4h0M232.3 308.8h0M217.6 304.5h0M266.0 326.4h0M184.2 296.3h0M244.7 314.0h0M207.6 307.8h0M281.4 286.0h0M250.9 296.1h0M264.0 324.9h0M235.4 309.8h0M279.3 270.9h0M273.6 312.0h0M219.9 310.0h0M225.7 322.9h0M272.6 305.0h0M274.2 316.3h0M215.8 330.2h0M258.2 305.7h0M200.6 330.7h0M217.4 311.1h0M262.1 328.6h0M233.9 315.2h0M274.6 266.0h0M259.2 293.7h0M292.5 301.3h0M286.9 270.3h0M254.1 317.5h0M256.0 317.5h0M287.7 282.7h0M209.6 323.6h0M261.1 287.7h0M307.2 296.8h0M240.4 316.4h0M291.7 305.8h0M266.1 282.6h0M241.7 288.1h0M235.7 276.7h0M213.9 306.5h0M194.1 313.7h0M299.5 314.5h0M197.4 283.8h0M246.2 309.6h0M220.2 318.3h0M175.0 333.3h0M246.5 303.4h0M225.1 303.4h0M243.6 279.4h0M279.5 291.9h0M282.4 288.3h0M272.4 304.4h0M178.1 315.3h0M241.1 334.2h0M248.6 275.6h0M198.3 297.5h0M328.1 298.8h0M275.2 300.0h0M234.1 292.1h0M315.1 320.8h0M267.4 316.3h0M221.2 318.9h0M309.7 326.0h0M277.4 284.1h0M194.9 304.6h0M273.7 297.9h0M232.6 275.7h0M278.2 316.7h0M227.3 296.1h0M198.5 271.2h0M242.3 313.6h0M268.6 275.6h0M273.0 286.0h0M261.5 301.6h0M268.5 320.0h0M256.5 327.3h0M248.1 322.1h0M180.9 291.9h0M297.8 329.2h0M268.4 305.9h0M202.5 307.3h0M232.2 268.2h0M258.8 267.7h0M244.5 273.6h0M209.6 297.9h0M216.0 295.1h0M263.8 294.3h0M254.0 286.8h0M274.9 288.2h0M249.7 314.8h0M255.3 273.3h0M221.8 290.2h0M247.3 310.2h0M248.7 315.4h0M234.8 279.5h0M272.6 320.7h0M218.6 303.7h0M269.4 278.1h0M262.0 276.8h0M210.6 308.0h0M212.1 277.0h0M316.4 326.5h0M276.6 314.7h0M216.4 320.7h0M305.8 269.0h0M285.4 280.9h0M212.2 332.4h0M241.6 299.9h0M296.9 286.5h0M278.3 329.6h0M313.1 304.1h0M236.1 297.8h0M237.1 315.7h0M232.0 311.5h0M261.3 329.8h0M290.9 330.0h0M287.8 291.2h0M263.7 325.3h0M209.7 277.1h0M239.6 275.4h0M308.8 315.4h0M247.3 287.5h0M276.9 320.1h0M208.6 318.7h0M253.7 297.3h0M235.1 287.2h0M182.8 279.7h0M231.3 274.6h0M278.6 299.5h0M200.3 272.5h0M244.6 319.8h0M204.6 295.2h0M282.4 283.3h0M266.0 322.7h0M248.9 330.0h0M246.7 300.9h0M230.5 333.1h0M290.4 333.2h0M291.3 328.0h0M196.8 279.7h0M259.5 305.4h0M221.8 296.7h0M291.4 319.1h0M175.5 268.9h0M297.7 306.7h0M246.8 326.4h0M243.0 281.9h0M202.2 300.9h0M218.5 288.6h0M188.5 295.4h0M286.5 316.3h0M240.9 319.9h0M279.1 303.2h0M265.3 314.1h0M229.2 286.1h0M239.9 273.4h0M235.6 285.1h0M230.0 291.5h0M209.9 331.9h0M269.4 315.3h0M246.6 315.2h0M211.7 332.5h0M295.9 276.1h0M307.3 272.0h0M203.0 333.4h0M285.1 312.1h0M261.3 302.2h0M285.5 328.1h0M200.6 275.8h0M259.8 282.1h0M209.7 313.0h0M236.3 297.5h0M308.0 271.3h0M228.1 311.9h0M198.5 320.1h0M206.7 309.0h0M228.8 286.7h0M221.3 297.8h0M284.6 323.9h0M295.6 292.7h0M284.0 302.3h0M300.1 298.4h0M297.8 297.7h0M244.8 276.1h0M203.3 284.7h0M215.4 292.8h0M243.3 312.6h0M218.9 293.5h0M235.0 331.1h0M208.6 318.1h0M255.4 291.8h0M228.2 333.0h0M250.2 302.4h0M198.6 272.5h0M271.8 299.5h0M205.0 274.5h0M273.8 267.7h0M280.6 324.1h0M238.0 309.8h0M261.7 268.4h0M294.6 292.2h0M254.1 268.7h0M244.4 290.9h0M248.7 298.8h0M238.2 297.9h0M239.5 289.5h0M203.6 318.5h0M202.0 311.5h0M224.0 280.1h0M198.3 315.2h0M262.2 289.0h0M238.2 334.1h0M261.9 321.9h0M321.9 269.6h0M254.2 301.5h0M211.3 327.9h0M267.6 304.5h0M304.4 284.6h0M280.3 289.3h0M298.0 297.0h0M263.3 306.3h0M259.8 295.0h0M236.2 291.4h0M199.7 274.7h0M276.4 316.1h0M301.8 271.5h0M275.2 314.2h0M260.1 300.0h0M226.5 307.5h0M229.2 277.0h0M231.4 269.3h0M218.4 327.3h0M300.6 315.5h0M268.0 304.6h0M257.7 268.4h0M211.9 317.2h0M212.4 324.8h0M218.2 295.7h0M257.7 306.1h0M277.0 276.2h0M231.9 276.0h0M203.2 288.1h0M296.5 317.2h0M288.6 329.5h0M236.2 286.1h0M193.5 309.8h0M246.9 334.7h0M280.6 333.2h0M234.6 270.1h0M273.5 326.7h0M287.6 268.4h0M198.5 296.2h0M235.6 302.3h0M310.6 323.5h0M210.9 272.6h0M248.7 295.2h0M234.3 284.3h0M308.7 335.6h0M227.1 324.3h0M220.7 302.7h0M298.8 314.3h0M284.1 272.8h0M270.3 279.6h0M211.9 289.9h0M198.9 300.7h0M270.2 294.6h0M275.7 309.3h0M206.8 331.4h0M317.5 295.5h0M268.4 291.5h0M298.7 279.5h0M214.8 313.8h0M256.5 279.1h0M293.5 285.1h0M233.8 322.5h0M294.5 315.6h0M266.9 305.0h0M225.2 304.8h0M192.1 302.9h0M272.4 278.1h0M301.8 285.3h0M279.2 325.1h0M294.7 304.3h0M243.1 280.0h0M289.4 306.7h0M235.3 273.8h0M215.8 286.6h0M267.8 300.4h0M212.8 308.5h0M257.3 298.1h0M243.5 325.4h0M278.9 320.9h0M191.3 281.9h0M227.3 277.4h0M198.7 308.7h0M271.6 321.5h0M248.5 277.9h0M240.8 268.4h0M242.8 271.6h0M284.3 293.7h0M209.7 274.8h0M235.8 279.7h0M290.3 330.6h0M258.7 309.7h0M290.4 312.2h0M289.9 302.8h0M270.8 330.5h0M178.1 287.6h0M200.6 302.3h0M280.3 301.1h0M237.9 286.9h0M223.9 285.3h0M228.0 304.6h0M297.8 331.4h0M237.9 277.7h0M299.3 324.9h0M191.7 308.2h0M231.1 306.4h0M251.9 300.2h0M290.0 317.7h0M259.0 280.3h0M253.4 279.4h0M248.0 272.1h0M256.3 273.1h0M276.8 323.4h0M277.2 313.9h0M289.9 317.3h0M244.9 280.9h0M247.3 302.4h0M234.0 313.1h0M204.2 296.5h0M264.5 293.0h0M197.5 277.3h0M298.1 308.1h0M238.4 326.4h0M305.6 297.3h0M196.0 290.4h0M285.8 318.9h0M300.4 334.7h0M226.2 327.3h0M330.2 287.5h0M316.5 301.3h0M245.8 329.9h0M280.6 326.5h0M263.4 299.0h0M212.4 331.3h0M292.5 321.9h0M266.5 295.6h0M283.8 306.3h0M292.8 318.5h0M221.2 306.3h0M291.5 314.7h0M245.8 332.0h0M253.0 279.5h0M242.2 296.7h0M244.6 300.9h0M264.0 278.2h0M257.9 297.7h0M269.5 302.8h0M326.6 311.5h0M218.5 285.7h0M224.5 287.3h0M232.0 308.6h0M299.6 329.0h0M237.9 276.7h0M264.9 289.2h0M232.0 283.2h0M322.9 283.7h0M277.2 308.4h0M261.3 292.3h0M288.7 300.9h0M280.0 293.5h0M271.8 326.4h0M225.0 312.3h0M285.4 327.1h0M295.9 293.8h0M218.6 327.4h0M319.8 306.8h0M205.8 325.3h0M241.5 293.3h0M196.2 319.1h0M200.8 295.7h0M218.1 285.7h0M213.7 282.0h0M224.4 310.4h0M299.7 296.9h0M281.3 304.3h0M204.0 326.7h0M249.3 271.3h0M269.2 313.4h0M261.4 276.1h0M182.5 277.7h0M237.3 303.8h0M275.0 335.3h0M213.8 309.2h0M203.6 310.4h0M213.1 310.4h0M256.9 312.4h0M316.4 268.3h0M290.6 300.8h0M281.9 330.4h0M269.9 272.1h0M199.1 310.5h0M290.4 308.0h0M193.0 275.7h0M295.2 283.0h0M232.4 320.7h0M282.9 306.0h0M243.0 309.5h0M265.6 283.4h0M282.5 280.8h0M212.0 320.3h0M278.2 332.8h0M259.3 291.3h0M303.6 319.3h0M253.5 329.9h0M315.5 283.6h0M295.9 316.1h0M288.8 279.0h0M261.6 286.1h0M220.3 281.5h0M216.0 312.1h0M238.1 303.8h0M270.5 318.1h0M214.4 308.9h0M221.0 319.0h0M230.1 267.7h0M251.9 284.9h0M283.0 285.5h0M232.0 318.0h0M236.1 292.5h0M306.5 285.5h0M241.9 272.5h0M213.2 322.7h0M264.2 276.4h0M191.5 289.6h0M288.1 286.1h0M248.0 272.4h0M251.0 284.3h0M240.0 312.3h0M265.0 289.5h0M271.8 301.2h0M273.0 335.0h0M210.0 313.3h0M261.9 297.8h0M250.5 276.3h0M234.0 281.4h0M235.5 307.1h0M310.5 335.1h0M238.8 321.2h0M218.4 293.6h0M265.7 315.6h0M277.8 271.9h0M238.6 311.0h0M210.0 298.8h0M292.7 304.2h0M194.9 334.0h0M261.8 267.1h0M225.9 295.8h0M227.9 327.6h0M208.5 292.9h0M295.6 300.6h0M207.6 284.3h0M260.7 308.6h0M288.6 331.4h0M251.9 319.5h0M231.4 283.4h0M299.1 315.8h0M277.3 278.1h0M271.0 295.3h0M236.3 302.7h0M182.6 331.0h0M309.0 280.3h0M265.3 289.9h0M257.8 282.7h0M244.8 290.6h0M241.3 324.7h0M241.7 283.8h0M210.7 286.6h0M262.5 285.8h0M256.6 281.9h0M199.1 306.7h0M270.5 325.4h0M251.8 280.1h0M231.3 305.9h0M229.4 286.8h0M267.9 317.0h0M251.5 297.0h0M195.4 295.9h0M348.7 272.6h0" stroke="#ff00ff" stroke-width="3.75" stroke-linecap="round" fill="none" transform="scale(1,1.16)"/>
<path d="M126.7 173.9h0M142.0 152.0h0M129.2 154.3h0M148.4 182.9h0M137.7 179.4h0M173.0 183.2h0M163.1 165.1h0M130.9 175.4h0M150.8 162.1h0M134.0 204.9h0M134.6 148.6h0M123.4 176.1h0M130.7 163.2h0M127.8 176.7h0M144.0 180.7h0M152.4 166.8h0M152.8 160.9h0M149.4 177.8h0M158.6 177.0h0M150.2 163.2h0M143.7 188.8h0M138.7 199.4h0M147.2 168.0h0M169.9 185.5h0M143.4 206.1h0M139.1 187.9h0M126.8 182.2h0M134.1 194.1h0M151.6 199.1h0M152.7 173.9h0M113.5 159.7h0M131.5 178.3h0M116.1 186.7h0M111.8 168.1h0M154.1 162.6h0M136.8 179.4h0M135.8 165.5h0M134.3 157.3h0M134.6 177.9h0M139.5 187.9h0M139.9 168.7h0M163.9 170.4h0M144.7 156.3h0M153.1 195.6h0M140.5 185.4h0M149.1 188.3h0M133.5 203.1h0M130.6 172.4h0M137.9 165.8h0M137.8 186.6h0M141.0 151.6h0M148.8 160.9h0M144.7 164.1h0M149.5 167.8h0M136.8 158.7h0M142.2 196.4h0M134.0 164.3h0M161.4 164.5h0M129.6 203.6h0M153.3 168.7h0M152.9 178.6h0M145.2 161.6h0M150.4 181.7h0M138.2 174.8h0M150.6 168.8h0M157.7 188.9h0M154.5 164.6h0M123.5 176.2h0M141.7 166.3h0M159.1 183.1h0M142.2 156.6h0M164.7 164.5h0M116.7 177.4h0M164.2 164.0h0M135.5 153.7h0M134.6 144.9h0M163.1 200.4h0M138.1 159.9h0M128.1 166.8h0M135.7 176.0h0M138.6 191.1h0M128.7 153.7h0M140.0 195.3h0M137.5 165.1h0M144.2 153.0h0M133.3 200.8h0M155.9 179.5h0M131.0 196.1h0M149.6 170.4h0M158.0 149.5h0M137.1 141.1h0M118.1 203.8h0M128.6 183.9h0M149.7 162.9h0M132.3 148.4h0M148.9 167.5h0M144.1 186.8h0M141.1 169.6h0M175.6 174.7h0M139.6 177.8h0M157.1 186.6h0M152.4 168.1h0M163.5 169.4h0M164.1 176.0h0M155.9 178.1h0M130.5 195.7h0M118.5 182.5h0M142.7 154.6h0M126.7 177.6h0M146.1 198.2h0M169.8 152.5h0M140.2 165.7h0M136.0 139.7h0M148.5 173.4h0M138.0 182.1h0M134.1 198.3h0M154.7 152.6h0M163.5 132.1h0M145.5 188.0h0M145.4 185.1h0M147.4 164.6h0M128.2 188.2h0M117.6 178.9h0M148.3 180.2h0M132.3 171.3h0M132.3 196.3h0M149.0 200.0h0M149.6 194.5h0M112.6 218.2h0M141.9 199.6h0M124.6 178.4h0M134.1 198.5h0M149.3 222.0h0M152.2 201.7h0M138.4 190.9h0M136.2 205.7h0M130.6 221.1h0M160.4 186.3h0M149.7 232.4h0M141.8 203.5h0M114.9 212.0h0M177.8 231.5h0M133.3 191.7h0M148.9 206.0h0M133.5 231.0h0M148.1 201.8h0M134.5 218.9h0M115.5 243.1h0M134.7 223.1h0M133.4 207.4h0M134.4 201.3h0M152.2 209.0h0M131.7 211.0h0M143.6 204.0h0M153.2 215.2h0M140.9 192.4h0M143.9 209.3h0M128.3 206.9h0M141.0 202.8h0M148.7 229.2h0M117.2 223.5h0M124.6 186.6h0M120.2 206.2h0M130.7 216.4h0M142.0 206.1h0M147.0 219.7h0M144.7 207.2h0M125.3 222.7h0M138.5 207.2h0M163.8 237.8h0M140.9 189.8h0M162.8 220.2h0M137.7 237.8h0M159.4 215.5h0M160.4 217.9h0M138.4 209.3h0M141.5 230.7h0M166.7 205.2h0M128.4 152.0h0M106.0 232.9h0M163.8 206.2h0M111.4 216.9h0M151.2 208.6h0M148.2 241.6h0M143.1 230.8h0M163.2 204.2h0M119.7 212.4h0M132.5 184.8h0M152.2 223.4h0M144.7 208.9h0M164.4 163.7h0M145.8 224.4h0M125.4 226.7h0M167.5 212.3h0M147.2 212.5h0M138.0 197.8h0M123.7 209.6h0M118.9 224.2h0M147.6 208.3h0M152.1 168.3h0M133.2 190.8h0M146.1 257.7h0M145.2 214.1h0M123.2 226.2h0M113.5 201.5h0M136.1 214.6h0M143.4 179.9h0M131.2 196.4h0M170.3 197.1h0M140.6 208.7h0M157.1 212.4h0M102.4 206.2h0M128.9 190.4h0M138.1 203.0h0M143.4 217.6h0M180.2 190.7h0M129.0 208.6h0M114.4 213.0h0M151.9 224.8h0M129.5 221.1h0M128.8 222.3h0M164.9 257.8h0M125.5 195.0h0M118.8 202.4h0M136.7 215.3h0M141.3 194.5h0M127.8 204.5h0M164.8 205.6h0M138.8 252.6h0M123.6 215.6h0M160.0 203.0h0M124.6 185.2h0M146.9 181.4h0M173.3 188.3h0M142.0 230.9h0M155.7 248.0h0M135.2 202.4h0M158.9 211.3h0M123.6 195.9h0M152.0 213.8h0M134.7 208.1h0M149.7 236.5h0M145.4 204.4h0M121.4 219.1h0M136.9 206.0h0M146.6 204.2h0M160.2 213.7h0M121.9 206.5h0M128.7 212.0h0M145.5 199.2h0M126.6 177.3h0M179.6 219.8h0M161.4 219.3h0M136.3 213.0h0M163.1 173.7h0M173.3 175.6h0M170.0 210.3h0M162.9 160.8h0M144.7 159.3h0M165.4 179.7h0M134.5 150.8h0M98.6 195.1h0M143.9 189.2h0M109.0 169.7h0M133.2 186.6h0M167.8 159.0h0M146.6 227.3h0M164.4 137.9h0M121.4 211.5h0M168.6 191.0h0M107.8 231.4h0M126.1 165.4h0M121.0 149.7h0M102.1 157.6h0M159.7 237.4h0M116.1 211.6h0M184.5 200.9h0M134.1 216.7h0M181.1 148.0h0M128.5 179.3h0M184.2 186.3h0M130.6 217.2h0M84.1 215.8h0M154.9 214.9h0M119.9 168.8h0M137.6 174.1h0M148.3 166.2h0M125.2 149.5h0M99.9 230.8h0M170.7 204.2h0M126.4 180.5h0M131.8 230.5h0M175.3 203.2h0M100.6 151.6h0M92.4 148.7h0M163.7 149.5h0M97.6 184.0h0M138.9 192.5h0M144.3 149.4h0M103.4 197.9h0M134.7 174.2h0M132.4 141.2h0M103.0 197.7h0M108.6 205.8h0M118.4 185.8h0M174.7 165.5h0M179.0 169.4h0M112.6 180.3h0M123.5 134.5h0M122.4 247.8h0M167.4 228.1h0M117.2 191.0h0M169.0 156.6h0M107.6 191.8h0M160.8 162.4h0M131.5 159.3h0M131.0 187.9h0M95.8 151.3h0M121.7 245.6h0M99.9 224.7h0M118.8 218.2h0M162.3 159.5h0M146.0 214.2h0M160.1 231.9h0M105.8 238.7h0M177.9 164.6h0M136.3 257.6h0M161.8 188.4h0M157.7 135.2h0M147.5 207.1h0M120.8 236.3h0M118.8 189.5h0M155.5 142.0h0M173.2 182.4h0M164.4 174.3h0M105.9 179.7h0M119.0 243.9h0M159.4 149.9h0M103.0 186.3h0M151.5 177.9h0M142.2 224.9h0M89.5 174.4h0M100.1 238.2h0M121.3 148.0h0M178.0 218.9h0M183.1 197.2h0M131.4 154.1h0M110.3 199.5h0M178.1 180.3h0M108.7 175.1h0M147.2 256.5h0M164.7 172.3h0M154.3 243.6h0M105.8 143.5h0M148.5 159.2h0M183.3 188.8h0M147.3 225.7h0M121.0 199.4h0M81.7 165.4h0M81.7 222.0h0M101.9 134.4h0M91.7 146.6h0M144.4 120.7h0M128.5 124.6h0M150.0 129.3h0M165.4 139.1h0M101.1 256.5h0M142.4 122.6h0M122.9 132.4h0" stroke="#0000ff" stroke-width="3.75" stroke-linecap="round" fill="none" transform="scale(1,1.16)"/>
<path d="M277.4 139.8h0M287.4 154.8h0M232.5 137.5h0M255.0 139.6h0M273.7 143.5h0M287.5 164.0h0M283.4 148.5h0M233.7 166.3h0M253.5 155.0h0M265.8 166.7h0M281.9 149.2h0M271.2 144.4h0M322.2 118.0h0M269.3 153.7h0M280.0 173.5h0M249.8 190.5h0M327.1 144.3h0M277.2 139.8h0M271.2 138.0h0M262.1 154.0h0M284.4 160.0h0M273.3 162.8h0M311.2 147.2h0M257.9 155.0h0M265.3 146.4h0M264.9 153.1h0M285.4 122.7h0M287.1 148.0h0M302.4 140.2h0M288.5 135.4h0M289.7 136.5h0M283.6 159.8h0M310.0 167.9h0M286.2 145.2h0M235.2 152.6h0M265.7 149.8h0M257.9 145.2h0M226.4 144.6h0M316.5 154.7h0M305.1 110.9h0M295.3 111.5h0M290.5 138.8h0M318.4 146.0h0M234.7 157.3h0M318.4 163.1h0M226.7 162.1h0M286.9 161.4h0M282.6 152.3h0M293.8 153.1h0M286.6 121.5h0M301.3 159.0h0M259.5 151.4h0M263.3 160.5h0M250.3 135.6h0M277.5 137.2h0M277.0 173.2h0M242.3 172.8h0M302.4 143.0h0M252.3 165.7h0M264.2 148.5h0M259.3 154.6h0M264.5 169.6h0M295.2 152.5h0M258.8 149.2h0M242.1 160.2h0M261.1 153.4h0M250.5 152.3h0M239.7 161.4h0M296.2 129.4h0M314.2 161.9h0M239.4 153.2h0M321.5 150.1h0M324.2 136.7h0M239.2 148.1h0M286.7 141.2h0M268.5 144.4h0M296.7 137.4h0M200.5 160.4h0M295.9 151.3h0M265.9 144.1h0M286.6 136.5h0M297.6 135.8h0M216.5 160.5h0M276.2 148.3h0M298.0 159.1h0M309.0 148.3h0M293.8 134.7h0M253.5 140.3h0M296.4 146.1h0M264.3 170.3h0M296.4 141.4h0M269.8 139.9h0M270.7 142.8h0M285.4 160.1h0M242.6 174.1h0M274.6 165.1h0M252.9 172.0h0M298.2 133.9h0M310.2 141.0h0M231.8 131.5h0M213.5 142.3h0M280.4 137.4h0M267.1 163.7h0M251.8 148.2h0M335.7 133.8h0M274.4 172.2h0M258.0 173.7h0M275.0 162.8h0M280.5 134.0h0M321.2 148.6h0M293.0 168.1h0M246.2 157.4h0M263.4 146.7h0M331.7 157.8h0M225.3 136.3h0M281.0 161.8h0M304.4 131.9h0M282.7 141.6h0M276.7 162.5h0M256.6 158.1h0M283.0 150.8h0M294.0 153.8h0M281.3 141.0h0M305.1 145.8h0M292.1 173.3h0M311.9 143.9h0M264.2 164.1h0M276.0 142.8h0M268.8 161.8h0M323.5 164.7h0M259.3 138.4h0M241.8 145.6h0M335.6 127.5h0M302.9 149.7h0M269.6 165.9h0M271.2 155.0h0M253.0 157.6h0M285.8 178.6h0M235.8 177.0h0M312.8 121.2h0M242.7 191.6h0M277.8 174.7h0M243.2 161.6h0M284.5 115.2h0M215.3 156.9h0M288.5 147.6h0M331.8 132.8h0M246.0 192.0h0M348.4 137.8h0M219.7 169.9h0M340.0 152.2h0M317.0 146.9h0M286.8 145.7h0M231.1 179.9h0M339.6 139.8h0M316.4 171.1h0M196.7 164.6h0M233.0 141.6h0M217.0 127.6h0M286.1 116.8h0M281.8 164.7h0M281.1 145.4h0M252.8 168.4h0M307.2 137.4h0M301.0 166.8h0M235.2 140.9h0M193.6 163.4h0M232.0 161.2h0M256.8 164.8h0M302.3 152.6h0M254.1 160.7h0M302.7 148.5h0M274.7 115.7h0M305.0 145.0h0M357.2 139.2h0M238.6 171.6h0M235.6 139.6h0M321.9 154.2h0M344.6 147.4h0M277.0 131.9h0M248.9 138.3h0M211.8 143.3h0M306.9 166.2h0M283.8 144.3h0M233.7 180.3h0M247.7 154.9h0M299.6 153.8h0M257.4 137.7h0M278.2 133.6h0M320.0 135.8h0M319.9 149.7h0M336.5 139.2h0M257.2 168.3h0M289.9 126.9h0M351.8 135.6h0M316.6 179.6h0M265.0 177.7h0M270.1 122.0h0M360.1 107.9h0M251.4 145.3h0M256.0 178.8h0M307.9 135.2h0M250.0 140.6h0M208.7 172.5h0M202.4 160.4h0M265.3 133.9h0M239.4 143.3h0M332.3 130.1h0M245.8 154.0h0M245.4 170.6h0M215.8 154.3h0M308.6 109.3h0M240.8 161.5h0M328.3 117.3h0M298.8 149.0h0M369.3 150.7h0M267.0 148.6h0M306.5 137.0h0M195.9 197.4h0M243.7 163.5h0M328.4 152.1h0M265.4 147.5h0M237.9 148.3h0M227.0 182.7h0M268.7 149.8h0M264.8 138.2h0M339.7 133.3h0M242.4 118.8h0M258.2 144.8h0M238.5 146.5h0M236.7 154.9h0M223.7 149.7h0M326.6 110.6h0M311.2 142.8h0M190.7 133.5h0M296.5 140.8h0M238.3 144.5h0M359.5 139.2h0M204.7 180.4h0M291.9 155.6h0M335.2 159.4h0M255.9 167.4h0M307.3 122.4h0M239.5 165.1h0M325.3 156.5h0M302.5 110.3h0M269.7 128.6h0M351.2 133.5h0M278.6 126.0h0M355.3 146.1h0M237.8 134.8h0M252.0 167.9h0M280.4 164.2h0M201.4 179.2h0M250.5 131.2h0M255.0 168.9h0M193.5 168.7h0M305.2 146.3h0M288.4 146.6h0M246.3 181.7h0M189.0 180.4h0M287.2 122.0h0M247.1 145.4h0M316.8 169.6h0M269.7 179.2h0M271.8 172.4h0M312.6 159.3h0M274.8 182.5h0M186.7 170.2h0M291.2 131.3h0M285.6 149.4h0M253.7 172.0h0M293.8 146.9h0M246.2 140.9h0M284.9 101.8h0M200.6 168.0h0M265.3 157.3h0M214.7 168.2h0M311.0 151.7h0M199.6 178.5h0M258.6 169.1h0M179.2 185.7h0M329.9 141.4h0M275.1 166.6h0M279.6 104.4h0M305.1 174.6h0M283.8 161.8h0M306.4 150.5h0M243.7 130.7h0M240.0 166.5h0M193.6 196.7h0M338.0 167.2h0M256.9 149.0h0M261.0 175.3h0M185.7 167.0h0M317.6 159.1h0M314.9 146.0h0M225.1 143.6h0M306.3 172.1h0M204.4 172.3h0M202.4 166.3h0M247.4 112.2h0M298.8 138.9h0M311.1 127.5h0M272.6 167.6h0M268.2 160.9h0M280.5 154.5h0M253.4 138.6h0M289.1 143.1h0M224.5 107.6h0M285.9 164.2h0M251.2 165.3h0M285.9 116.5h0M261.4 149.0h0M289.8 126.7h0M242.1 180.4h0M239.7 166.4h0M209.2 167.7h0M326.5 159.7h0M327.9 134.7h0M324.1 148.1h0M284.4 148.0h0M262.8 169.9h0M306.8 145.0h0M280.1 174.2h0M295.1 156.8h0M287.6 164.1h0M284.7 153.5h0M221.8 159.3h0M268.5 148.1h0M225.0 146.4h0M335.4 131.6h0M257.9 175.0h0M288.9 139.2h0M325.3 143.3h0M254.7 157.9h0M265.7 151.8h0M325.8 143.4h0M303.4 156.4h0M251.7 191.3h0M245.9 167.7h0M322.4 139.5h0M322.5 147.1h0M317.8 143.5h0M320.3 155.5h0M222.1 167.8h0M226.1 153.7h0M251.6 150.7h0M258.6 171.2h0M278.3 183.8h0M323.5 137.3h0M285.4 128.8h0M217.7 155.9h0M246.5 146.5h0M309.2 151.3h0M251.6 176.3h0M241.8 175.0h0M283.0 151.3h0M235.1 131.1h0M316.8 178.2h0M287.4 130.7h0M322.0 169.9h0M304.7 155.6h0M216.9 166.1h0M254.8 156.2h0M324.1 127.9h0M252.3 140.6h0M319.1 125.2h0M219.1 178.9h0M270.5 129.4h0M305.1 161.2h0M288.5 122.5h0M300.4 143.2h0M296.6 157.9h0M245.2 177.9h0M232.2 187.1h0M289.3 148.5h0M327.2 125.7h0M251.2 147.3h0M202.8 162.8h0M217.8 172.8h0M255.9 167.5h0M215.0 170.2h0M243.7 170.2h0M325.3 130.6h0M222.0 171.5h0M215.9 146.1h0M216.9 146.1h0M274.2 138.8h0M270.7 138.5h0M304.9 124.2h0M273.7 157.2h0M267.8 129.0h0M284.6 153.3h0M204.8 184.3h0M341.1 141.9h0M266.1 135.9h0M238.5 148.2h0M293.8 158.5h0M280.4 142.4h0M216.6 164.8h0M271.4 126.1h0M228.3 190.2h0M267.2 162.4h0M222.6 174.0h0M281.1 175.3h0M292.4 128.3h0M216.9 166.7h0M316.2 143.3h0M261.1 122.9h0M310.6 128.6h0M250.7 142.5h0M337.9 159.6h0M242.1 132.7h0M216.8 183.3h0M261.5 146.0h0M263.7 136.9h0M235.5 165.0h0M317.0 158.1h0M328.1 154.0h0M320.6 170.1h0M285.1 138.4h0M314.7 142.6h0M229.5 137.9h0M323.2 131.1h0M263.5 123.0h0M281.3 123.1h0M212.5 174.5h0M330.8 153.6h0M263.6 177.6h0M266.8 171.7h0M214.4 166.7h0M315.0 168.3h0M251.0 193.7h0M308.6 150.2h0M302.5 142.1h0M219.1 141.7h0M235.8 144.5h0M219.9 150.7h0M265.6 156.2h0M290.7 166.6h0M268.6 122.2h0M274.2 169.9h0M276.2 120.7h0M257.2 165.4h0M279.8 129.4h0M244.5 177.0h0M293.3 125.2h0M213.2 187.9h0M264.8 178.6h0M263.0 145.4h0M261.2 123.4h0M254.3 128.5h0M311.4 140.2h0M214.9 186.0h0M239.1 184.1h0M294.3 156.8h0M302.1 135.2h0M230.9 139.3h0M219.0 180.3h0M240.5 163.7h0M207.4 160.8h0M241.4 169.9h0M286.1 174.9h0M326.6 130.5h0M238.6 163.3h0M310.4 135.0h0M315.5 124.7h0M219.5 151.5h0M278.4 146.1h0M273.2 145.1h0M206.6 164.5h0M285.4 159.7h0M253.2 161.7h0M266.5 141.9h0M220.6 180.2h0M242.4 147.6h0M279.3 160.2h0M331.1 149.1h0M325.4 139.4h0M320.5 136.8h0M268.8 186.4h0M330.4 146.8h0M261.2 143.3h0M266.7 161.8h0M315.5 142.4h0M273.0 161.6h0M224.6 170.1h0M338.6 143.0h0M295.5 155.0h0M306.1 126.0h0M275.7 127.5h0M294.4 129.0h0M293.1 184.1h0M218.2 177.8h0M238.0 160.3h0M342.4 140.8h0M289.4 126.1h0M274.3 134.0h0M243.9 190.6h0M217.8 147.8h0M277.8 117.5h0M232.9 149.7h0M192.4 163.2h0M237.0 99.2h0M217.8 182.0h0M235.0 160.5h0M206.1 163.2h0M206.7 184.9h0M252.1 111.6h0M261.5 167.1h0M254.4 120.5h0M342.8 152.7h0M203.2 153.9h0M300.1 142.8h0M239.0 161.3h0M227.9 190.0h0M214.3 133.2h0M232.7 158.9h0M204.6 170.9h0M320.9 105.5h0M197.5 184.9h0M229.5 109.9h0M202.0 213.3h0M295.5 117.1h0M185.2 134.2h0M178.8 138.2h0M244.2 130.5h0M210.5 136.8h0M311.8 167.7h0M271.0 121.5h0M255.2 168.0h0M233.1 180.8h0M293.1 145.5h0M246.1 197.3h0M213.9 177.7h0M218.6 166.1h0M314.9 119.0h0M185.7 173.0h0M335.0 123.9h0M247.4 141.1h0M352.4 134.5h0M180.4 175.9h0M236.8 158.6h0M209.3 141.5h0M203.0 197.4h0M370.9 85.4h0M273.9 172.9h0M232.4 131.9h0M334.7 131.4h0M343.6 149.3h0M250.7 147.5h0M316.2 174.0h0M253.3 127.2h0M192.7 147.8h0M224.1 186.6h0M212.2 180.2h0M304.6 158.1h0M226.5 163.2h0M222.2 155.2h0M217.0 186.5h0M233.6 177.2h0M205.1 167.6h0M284.4 158.2h0M206.7 197.6h0M243.0 185.0h0M219.5 186.4h0M249.1 167.6h0M210.9 171.2h0M198.6 144.4h0M203.9 171.2h0M253.9 194.2h0M201.0 177.8h0M253.0 155.6h0M201.0 202.1h0M230.4 197.4h0M244.3 180.7h0M242.2 167.7h0M217.2 189.5h0M185.4 181.3h0M243.7 182.2h0M233.0 178.5h0M234.9 160.1h0M218.8 186.7h0M196.6 180.2h0M212.9 173.4h0M235.8 177.0h0M236.3 210.5h0M232.5 192.6h0M217.5 175.1h0M211.5 189.0h0M213.1 174.2h0M213.0 188.0h0M277.6 186.7h0M261.5 168.7h0M188.2 191.7h0M245.7 185.8h0M218.3 190.4h0M177.8 189.8h0M231.6 148.9h0M233.1 172.6h0M207.2 180.9h0M228.4 178.9h0M203.6 195.1h0M180.6 173.1h0M284.8 160.3h0M226.4 207.8h0M232.4 163.8h0M248.7 150.9h0M188.2 182.0h0M184.2 166.8h0M216.9 154.0h0M280.1 184.1h0M242.6 163.6h0M214.1 192.2h0M220.5 173.4h0M207.8 197.6h0M253.2 179.7h0M218.0 164.7h0M199.3 164.6h0M209.6 160.5h0M215.7 188.1h0M227.5 179.0h0M201.7 178.4h0M209.8 177.4h0M216.5 174.7h0M260.1 198.5h0M211.3 168.9h0M232.8 153.7h0M206.1 179.8h0M207.9 171.7h0M246.5 173.1h0M213.7 156.7h0M229.8 163.9h0M244.4 195.5h0M228.4 174.2h0M202.0 197.1h0M235.2 197.4h0M217.3 160.6h0M227.8 191.6h0M202.8 193.2h0M199.7 197.6h0M320.5 92.9h0M335.7 110.3h0M303.0 175.3h0M289.7 115.2h0M319.3 139.3h0M295.3 148.4h0M308.0 132.1h0M329.6 105.9h0M305.9 105.1h0M284.5 113.6h0M326.0 103.3h0M311.7 132.6h0M328.6 140.5h0M343.0 91.3h0M308.2 117.2h0M291.5 131.8h0M301.3 112.0h0M341.1 138.8h0M323.6 97.1h0M341.2 148.9h0M312.1 135.1h0M340.3 128.8h0M308.6 129.0h0M304.5 147.9h0M321.0 110.0h0M317.9 114.2h0M314.9 124.4h0M322.5 115.0h0M345.9 133.7h0M303.7 107.9h0M275.8 135.6h0M331.9 144.5h0M370.0 128.5h0M348.5 128.8h0M290.3 118.9h0M333.0 113.1h0M350.1 94.8h0M344.5 149.1h0M302.6 84.5h0M276.8 94.9h0M310.8 95.1h0M347.7 86.1h0M356.4 92.4h0M364.1 105.0h0M258.6 103.0h0M301.1 86.9h0" stroke="#00ffff" stroke-width="3.75" stroke-linecap="round" fill="none" transform="scale(1,1.16)"/>
<path d="M317.1 229.2h0M330.3 224.5h0M285.9 239.6h0M297.7 196.6h0M313.8 225.1h0M283.3 202.5h0M331.8 214.4h0M290.5 195.6h0M308.3 196.6h0M324.0 255.3h0M305.6 205.4h0M284.1 259.1h0M273.6 271.5h0M314.3 235.9h0M314.0 211.4h0M327.9 215.4h0M310.9 211.7h0M302.0 192.5h0M250.1 251.1h0M276.5 224.9h0M286.5 219.3h0M284.5 236.6h0M316.5 215.4h0M338.2 217.1h0M293.4 205.7h0M317.3 222.3h0M344.1 165.8h0M334.0 230.9h0M299.2 217.0h0M302.4 181.3h0M340.8 179.5h0M274.2 234.8h0M292.6 245.4h0M327.8 188.2h0M335.9 198.8h0M295.9 223.8h0M309.7 201.5h0M271.7 248.8h0M255.2 233.4h0M317.3 177.0h0M276.6 246.2h0M316.9 230.0h0M263.5 181.9h0M338.1 224.8h0M295.3 249.4h0M306.1 238.7h0M297.1 198.4h0M293.2 228.2h0M325.8 178.1h0M337.6 238.7h0M348.7 183.0h0M287.2 212.7h0M338.0 196.6h0M338.1 221.2h0M304.3 217.7h0M294.3 257.4h0M317.0 207.6h0M301.5 216.3h0M331.6 221.0h0M298.1 234.1h0M264.7 231.7h0M294.6 245.8h0M308.8 225.5h0M333.1 204.9h0M294.1 226.5h0M277.1 242.9h0M308.2 248.2h0M283.7 247.2h0M246.0 245.6h0M330.4 244.4h0M275.6 228.7h0M282.7 222.7h0M367.8 190.7h0M353.7 213.6h0M342.2 192.7h0M280.5 209.4h0M323.1 220.7h0M291.8 239.9h0M273.4 261.5h0M280.4 259.0h0M262.3 213.4h0M309.4 208.2h0M367.8 179.3h0M299.5 220.8h0M267.4 251.7h0M320.2 239.3h0M311.8 208.2h0M297.6 253.6h0M322.9 243.7h0M332.6 217.5h0M293.3 212.0h0M317.5 212.7h0M339.1 233.7h0M292.7 215.6h0M336.7 192.0h0M332.1 224.3h0M361.3 228.6h0M318.1 227.5h0M253.9 199.0h0M275.6 194.2h0M305.8 213.6h0M368.2 168.6h0M334.2 224.6h0M329.1 217.0h0M340.3 168.6h0M267.5 231.0h0M308.7 217.0h0M306.0 180.1h0M314.0 216.0h0M347.0 238.5h0M287.2 236.4h0M288.7 210.7h0M284.2 231.2h0M305.0 186.1h0M335.3 214.4h0M307.8 228.6h0M327.4 192.6h0M283.2 240.2h0M281.7 234.7h0M301.9 194.0h0M320.3 216.6h0M308.0 255.1h0M303.2 240.7h0M307.4 226.7h0M305.0 238.3h0M329.1 222.7h0M289.0 214.8h0M297.6 200.2h0M287.6 212.9h0M298.9 204.9h0M289.8 225.2h0M322.9 214.6h0M321.3 215.1h0M314.3 201.1h0M348.9 227.4h0M296.1 226.7h0M344.2 238.0h0M295.1 174.2h0M290.9 220.5h0M320.7 223.6h0M335.6 183.4h0M328.5 209.3h0M290.0 190.8h0M270.9 230.7h0M290.1 239.6h0M321.9 217.5h0M332.9 165.7h0M271.0 258.9h0M278.8 258.9h0M326.8 211.2h0M341.2 226.9h0M316.2 253.9h0M336.8 205.2h0M341.7 229.3h0M316.9 238.9h0M271.7 206.8h0M297.2 232.2h0M299.1 207.1h0M306.2 241.2h0M261.9 234.8h0M292.1 235.5h0M298.0 204.9h0M305.4 184.9h0M331.0 238.4h0M333.4 245.5h0M316.0 238.5h0M289.3 223.3h0M262.7 242.5h0M281.9 261.8h0M282.4 233.4h0M348.4 209.8h0M311.9 203.0h0M306.1 179.9h0M333.1 209.6h0M326.3 204.6h0M335.4 176.1h0M298.2 219.5h0M320.9 232.0h0M311.2 260.7h0M297.2 197.0h0M320.4 239.0h0M301.2 254.6h0M305.0 212.9h0M312.9 222.8h0M337.1 205.5h0M352.9 200.0h0M335.6 241.0h0M299.0 260.9h0M338.7 180.9h0M294.5 199.1h0M304.2 257.8h0M273.8 247.9h0M320.8 201.7h0M303.1 212.0h0M301.2 257.5h0M303.3 194.0h0M307.2 260.1h0M336.4 176.5h0M340.3 214.3h0M294.6 217.6h0M331.3 223.7h0M312.8 246.3h0M284.5 224.4h0M286.9 208.4h0M346.4 201.2h0M300.3 187.1h0M318.3 250.1h0M305.2 205.4h0M314.4 258.4h0M288.8 249.8h0M301.7 225.7h0M337.8 181.7h0M305.7 197.8h0M353.4 191.6h0M315.2 202.3h0M331.4 177.7h0M348.9 202.8h0M294.6 225.1h0M278.7 254.7h0M309.4 207.3h0M313.2 231.5h0M316.2 194.6h0M271.4 248.6h0M289.4 203.2h0M318.5 209.7h0M347.7 186.7h0M298.0 246.7h0M293.7 230.3h0M328.6 193.5h0M350.7 195.0h0M293.5 253.4h0M330.5 178.3h0M275.2 205.9h0M325.7 244.9h0M322.5 220.0h0M331.0 217.2h0M325.0 204.6h0M288.4 201.3h0M329.3 208.6h0M287.0 232.3h0M285.2 252.1h0M320.7 189.0h0M280.7 249.2h0M292.6 257.5h0M316.6 254.0h0M294.3 234.1h0M301.5 193.4h0M330.7 208.2h0M293.5 186.2h0M343.9 182.5h0M282.6 218.9h0M346.5 229.7h0M271.4 209.8h0M341.4 231.2h0M293.8 229.7h0M308.8 198.3h0M291.0 256.2h0M313.8 195.8h0M327.1 225.7h0M305.9 217.4h0M323.1 212.6h0M272.9 206.4h0M310.8 196.9h0M315.5 234.6h0M280.3 214.2h0M299.5 256.3h0M345.5 194.9h0M269.3 249.3h0M330.7 195.3h0M315.7 258.2h0M317.0 251.1h0M318.4 201.2h0M308.1 216.2h0M280.8 212.3h0M344.4 208.1h0M334.2 207.7h0M263.7 235.6h0M277.1 204.2h0M269.8 208.7h0M324.4 191.8h0M352.5 196.1h0M321.8 221.5h0M296.2 234.3h0M310.8 262.2h0M353.0 246.7h0M316.4 196.7h0M348.0 212.1h0M279.1 209.3h0M334.9 178.5h0M295.8 201.6h0M291.1 224.4h0M366.8 194.0h0M356.9 226.0h0M268.0 241.3h0M318.9 210.0h0M260.8 236.1h0M351.8 196.3h0M335.2 242.5h0M288.8 188.6h0M285.3 207.3h0M369.6 210.4h0M335.9 218.0h0M269.1 194.8h0M300.3 204.1h0M348.9 176.7h0M294.8 244.9h0M274.5 229.7h0M310.5 231.2h0M274.0 226.5h0M270.2 233.5h0M340.2 175.0h0M309.5 273.6h0M254.4 191.3h0M238.2 270.5h0M361.8 194.7h0M260.4 252.8h0M252.3 203.2h0M306.3 195.1h0M285.2 270.8h0M253.3 200.9h0M337.8 209.2h0M269.7 203.1h0M267.8 238.1h0M322.1 206.2h0M353.0 189.2h0M341.1 175.9h0M342.5 175.9h0M358.8 195.3h0M277.0 192.5h0M295.8 182.8h0M333.8 179.9h0M265.0 212.9h0M269.8 259.7h0M248.5 205.6h0M327.4 197.9h0M313.4 248.1h0M302.7 247.5h0M270.7 261.7h0M316.9 199.0h0M295.4 263.6h0M316.6 233.3h0M325.4 261.0h0M356.6 181.2h0M287.4 164.1h0M317.0 256.0h0M300.9 261.8h0M336.4 219.9h0M275.1 268.6h0M318.9 247.3h0M292.5 181.3h0M378.4 206.3h0M386.1 206.3h0M387.6 219.6h0M368.1 235.3h0M347.2 271.8h0" stroke="#ff0000" stroke-width="3.75" stroke-linecap="round" fill="none" transform="scale(1,1.16)"/>
<path d="M236.8 231.8h0M231.2 244.4h0M241.4 223.7h0M212.7 229.1h0M187.8 209.5h0M181.2 264.2h0M232.8 225.9h0M190.0 246.6h0M230.5 242.1h0M226.1 222.4h0M211.8 234.3h0M244.3 232.2h0M209.1 252.0h0M223.5 221.5h0M215.4 239.3h0M171.8 236.1h0M163.2 245.5h0M224.4 254.2h0M274.3 247.4h0M242.9 224.4h0M234.3 240.6h0M245.1 242.0h0M244.4 236.9h0M197.3 220.4h0M248.8 226.3h0M204.4 209.4h0M197.8 231.6h0M321.4 220.3h0M227.8 224.1h0M199.7 218.5h0M251.7 251.9h0M201.8 265.2h0M190.2 250.3h0M265.9 224.4h0M214.6 208.4h0M200.8 258.6h0M228.0 255.8h0M201.3 258.3h0M243.5 219.1h0M167.7 249.4h0M242.9 222.4h0M177.5 226.2h0M170.1 225.8h0M198.0 210.8h0M188.2 250.8h0M194.2 231.3h0M206.0 245.9h0M230.1 241.7h0M170.5 260.6h0M189.4 256.9h0M179.2 225.5h0M250.4 245.5h0M244.8 238.1h0M261.6 237.3h0M194.1 247.1h0M243.3 240.3h0M211.9 222.2h0M177.2 238.4h0M248.2 259.0h0M236.3 264.6h0M192.4 233.0h0M187.0 242.8h0M227.4 232.3h0M237.9 248.5h0M201.1 229.4h0M219.7 257.9h0M207.9 251.0h0M228.4 223.0h0M219.6 234.3h0M164.4 241.4h0M213.5 230.6h0M241.1 251.6h0M199.5 240.0h0M215.7 256.4h0M187.9 224.2h0M214.7 210.0h0M195.3 226.3h0M193.5 208.7h0M209.8 225.7h0M236.7 202.0h0M171.8 240.0h0M260.6 201.7h0M179.4 237.9h0M185.5 249.5h0M220.1 264.5h0M223.8 259.0h0M222.2 222.8h0M196.1 239.1h0M236.8 248.2h0M189.2 236.5h0M254.5 219.6h0M250.9 229.4h0M213.1 216.4h0M198.2 249.5h0M232.7 215.0h0M238.8 247.6h0M199.7 223.8h0M238.5 223.0h0M189.4 254.7h0M209.5 218.7h0M210.3 238.3h0M234.4 232.1h0M223.4 229.8h0M227.8 217.4h0M172.1 246.3h0M207.2 211.5h0M242.5 239.4h0M241.8 209.5h0M236.7 236.9h0M237.9 222.0h0M203.7 213.1h0M244.4 222.4h0M225.8 222.3h0M183.9 233.1h0M199.2 234.1h0M225.6 214.5h0M213.1 220.4h0M194.8 235.2h0M230.2 227.9h0M249.4 232.5h0M241.2 251.1h0M247.4 216.5h0M201.5 230.2h0M204.3 224.4h0M215.0 250.8h0M231.3 256.1h0M247.9 211.3h0M210.5 260.8h0M250.6 220.7h0M226.2 224.5h0M187.9 247.4h0M225.9 218.2h0M231.1 211.4h0M221.9 238.2h0M225.8 256.0h0M184.5 208.0h0M193.0 257.7h0M243.8 253.9h0M235.7 248.8h0M257.7 236.8h0M184.0 231.6h0M277.5 210.0h0M244.0 216.5h0M186.2 258.1h0M233.1 194.5h0M211.7 237.6h0M237.2 220.9h0M206.0 199.8h0M213.9 229.2h0M234.9 241.1h0M205.3 247.0h0M174.3 225.0h0M202.6 232.0h0M217.8 255.1h0M212.8 207.1h0M244.1 261.1h0M259.6 242.0h0M248.9 226.5h0M239.4 224.7h0M229.7 236.8h0M244.4 238.3h0M256.6 194.1h0M312.1 244.2h0M227.9 212.0h0M194.9 238.7h0M241.6 226.5h0M198.4 232.3h0M239.2 208.9h0M324.3 150.3h0M318.4 170.9h0M331.9 150.2h0M247.0 245.0h0M307.1 174.3h0M305.4 194.2h0M211.0 223.3h0M278.1 178.9h0M293.0 171.7h0M265.8 192.2h0M304.5 164.5h0M305.5 155.4h0M288.4 195.5h0M274.9 176.5h0M330.0 168.0h0M276.4 213.6h0M312.8 166.2h0M340.8 147.3h0M296.1 179.7h0M318.4 178.8h0M295.8 176.1h0M330.8 165.9h0M226.3 193.8h0M236.3 215.0h0M266.0 196.5h0M282.1 198.8h0M329.2 156.1h0M334.7 139.0h0M326.2 174.9h0M346.9 157.9h0M300.8 205.6h0M281.3 193.6h0M231.9 201.4h0M350.7 166.6h0M322.0 173.5h0M304.4 188.7h0M254.1 212.8h0M269.9 209.8h0M320.0 174.4h0M308.6 191.1h0M336.9 157.0h0M298.4 170.3h0M268.5 190.8h0M273.0 222.2h0M288.7 171.6h0M351.8 141.6h0M360.7 130.8h0M280.7 204.8h0M322.7 176.0h0M268.4 192.1h0M294.6 162.5h0M206.9 249.9h0M274.8 193.4h0M231.7 217.1h0M354.0 154.1h0M282.8 187.7h0M320.0 176.4h0M290.1 171.2h0M265.2 223.6h0M319.0 166.5h0M342.0 163.3h0M308.0 177.9h0M326.5 177.7h0M363.5 182.6h0M307.5 157.8h0M289.4 178.9h0M238.3 213.4h0M269.7 200.4h0M269.9 195.8h0M326.0 155.4h0M307.5 178.5h0M283.1 186.6h0M325.6 180.6h0M321.3 161.4h0M285.6 174.8h0M335.1 177.8h0M242.6 208.7h0M317.6 163.6h0M312.9 195.4h0M332.2 185.0h0M300.9 190.5h0M270.4 180.0h0M323.7 175.8h0M304.4 178.9h0M305.1 195.1h0M268.7 218.3h0M238.2 215.8h0M257.3 204.0h0M289.8 196.2h0M325.6 180.2h0M282.2 210.5h0M319.6 172.5h0M335.9 172.8h0M315.0 181.9h0M352.9 156.8h0M333.1 152.5h0M314.4 194.5h0M270.9 203.3h0M345.0 160.7h0M294.8 182.0h0M293.4 204.6h0M271.1 208.1h0M276.1 189.2h0M315.0 186.5h0M341.6 177.0h0M303.7 189.9h0M285.1 206.1h0M320.1 164.8h0M235.5 216.6h0M296.5 191.8h0M301.9 184.6h0M336.6 189.9h0M309.1 187.0h0M300.0 175.2h0M326.4 144.8h0M359.1 146.1h0M291.1 169.6h0M341.2 157.4h0M334.7 192.2h0M323.3 188.9h0M270.3 231.6h0M324.3 171.1h0M321.0 209.2h0M334.4 188.7h0M365.1 158.8h0M330.6 146.3h0M333.1 151.9h0M279.7 201.4h0M214.6 229.4h0M284.1 196.3h0M267.5 149.1h0M331.9 194.9h0M397.6 162.6h0M340.8 194.7h0M394.3 153.1h0M284.6 198.3h0M233.3 204.5h0M350.2 157.0h0M245.8 220.2h0M364.1 80.2h0M388.1 171.3h0" stroke="#007c00" stroke-width="3.75" stroke-linecap="round" fill="none" transform="scale(1,1.16)"/>
<rect x="62.5" y="71.9" width="367.9" height="328.1" fill="none" stroke="#3a3a3a" stroke-width="1.3"/>
<path d="M71.70 400.0v-5M71.70 71.9v5M174.10 400.0v-5M174.10 71.9v5M276.50 400.0v-5M276.50 71.9v5M378.90 400.0v-5M378.90 71.9v5M62.5 390.50h5M430.4 390.50h-5M62.5 344.95h5M430.4 344.95h-5M62.5 299.40h5M430.4 299.40h-5M62.5 253.85h5M430.4 253.85h-5M62.5 208.30h5M430.4 208.30h-5M62.5 162.75h5M430.4 162.75h-5M62.5 117.20h5M430.4 117.20h-5M62.5 71.65h5M430.4 71.65h-5" stroke="#3a3a3a" stroke-width="1" fill="none"/>
<g class="tk">
<text transform="translate(72.30,426.6) scale(0.79,1)" text-anchor="middle">0</text>
<text transform="translate(174.70,426.6) scale(0.79,1)" text-anchor="middle">200</text>
<text transform="translate(277.10,426.6) scale(0.79,1)" text-anchor="middle">400</text>
<text transform="translate(379.50,426.6) scale(0.79,1)" text-anchor="middle">600</text>
<text transform="translate(60.8,400.50) scale(0.79,1)" text-anchor="end">0</text>
<text transform="translate(60.8,354.95) scale(0.79,1)" text-anchor="end">100</text>
<text transform="translate(60.8,309.40) scale(0.79,1)" text-anchor="end">200</text>
<text transform="translate(60.8,263.85) scale(0.79,1)" text-anchor="end">300</text>
<text transform="translate(60.8,218.30) scale(0.79,1)" text-anchor="end">400</text>
<text transform="translate(60.8,172.75) scale(0.79,1)" text-anchor="end">500</text>
<text transform="translate(60.8,127.20) scale(0.79,1)" text-anchor="end">600</text>
<text transform="translate(60.8,81.65) scale(0.79,1)" text-anchor="end">700</text>
<text transform="translate(245.8,449.4) scale(0.772,1)" text-anchor="middle">CD4 FITC</text>
<text transform="translate(15.2,235.5) rotate(-90) scale(1.0,0.97)" style="font-size:24.6px" text-anchor="middle" textLength="108" lengthAdjust="spacing">CD8β PE</text>
</g>
<text class="tt" y="30.3"><tspan x="92.5" textLength="98.3" lengthAdjust="spacingAndGlyphs">Combined.</tspan> <tspan x="206.6" textLength="45.6" lengthAdjust="spacingAndGlyphs">K=9.</tspan> <tspan x="268.0" textLength="107.5" lengthAdjust="spacingAndGlyphs">ENT=1478</tspan></text>
<text class="cp" x="220.1" y="503.3" textLength="27.9" lengthAdjust="spacing">(c)</text>
</g>
</svg>
</body></html>
